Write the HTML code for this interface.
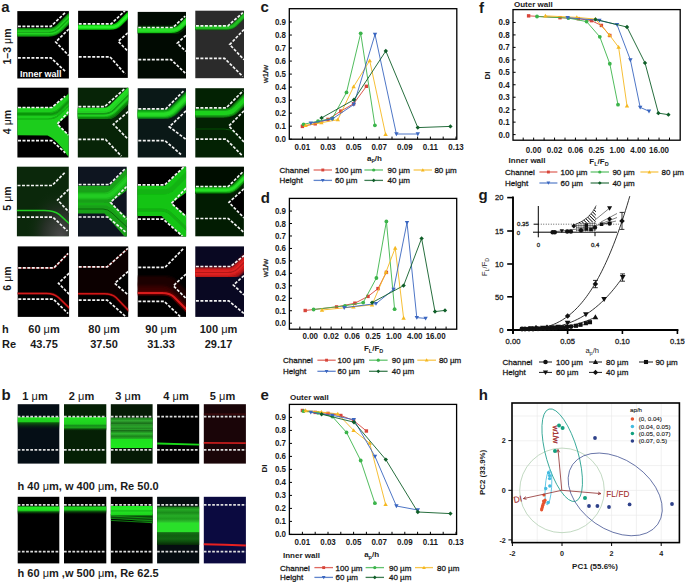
<!DOCTYPE html><html><head><meta charset="utf-8"><style>html,body{margin:0;padding:0;background:#fff;}svg{display:block;}text{font-family:"Liberation Sans", sans-serif;}</style></head><body>
<svg width="685" height="582" viewBox="0 0 685 582">
<rect width="685" height="582" fill="#fff"/>
<text x="260.50" y="11.60" font-size="15" font-weight="bold" text-anchor="start" fill="#1a1a1a" >c</text>
<rect x="289.3" y="8.7" width="167.50" height="130.50" fill="none" stroke="#000" stroke-width="1.3"/>
<line x1="289.3" y1="139.20" x2="291.9" y2="139.20" stroke="#000" stroke-width="1"/>
<text x="0" y="0" transform="translate(286.00,142.20) scale(0.93,1)" font-size="8.6" font-weight="bold" text-anchor="end" fill="#1a1a1a" >0.0</text>
<line x1="289.3" y1="126.18" x2="291.9" y2="126.18" stroke="#000" stroke-width="1"/>
<text x="0" y="0" transform="translate(286.00,129.18) scale(0.93,1)" font-size="8.6" font-weight="bold" text-anchor="end" fill="#1a1a1a" >0.1</text>
<line x1="289.3" y1="113.16" x2="291.9" y2="113.16" stroke="#000" stroke-width="1"/>
<text x="0" y="0" transform="translate(286.00,116.16) scale(0.93,1)" font-size="8.6" font-weight="bold" text-anchor="end" fill="#1a1a1a" >0.2</text>
<line x1="289.3" y1="100.14" x2="291.9" y2="100.14" stroke="#000" stroke-width="1"/>
<text x="0" y="0" transform="translate(286.00,103.14) scale(0.93,1)" font-size="8.6" font-weight="bold" text-anchor="end" fill="#1a1a1a" >0.3</text>
<line x1="289.3" y1="87.12" x2="291.9" y2="87.12" stroke="#000" stroke-width="1"/>
<text x="0" y="0" transform="translate(286.00,90.12) scale(0.93,1)" font-size="8.6" font-weight="bold" text-anchor="end" fill="#1a1a1a" >0.4</text>
<line x1="289.3" y1="74.10" x2="291.9" y2="74.10" stroke="#000" stroke-width="1"/>
<text x="0" y="0" transform="translate(286.00,77.10) scale(0.93,1)" font-size="8.6" font-weight="bold" text-anchor="end" fill="#1a1a1a" >0.5</text>
<line x1="289.3" y1="61.08" x2="291.9" y2="61.08" stroke="#000" stroke-width="1"/>
<text x="0" y="0" transform="translate(286.00,64.08) scale(0.93,1)" font-size="8.6" font-weight="bold" text-anchor="end" fill="#1a1a1a" >0.6</text>
<line x1="289.3" y1="48.06" x2="291.9" y2="48.06" stroke="#000" stroke-width="1"/>
<text x="0" y="0" transform="translate(286.00,51.06) scale(0.93,1)" font-size="8.6" font-weight="bold" text-anchor="end" fill="#1a1a1a" >0.7</text>
<line x1="289.3" y1="35.04" x2="291.9" y2="35.04" stroke="#000" stroke-width="1"/>
<text x="0" y="0" transform="translate(286.00,38.04) scale(0.93,1)" font-size="8.6" font-weight="bold" text-anchor="end" fill="#1a1a1a" >0.8</text>
<line x1="289.3" y1="22.02" x2="291.9" y2="22.02" stroke="#000" stroke-width="1"/>
<text x="0" y="0" transform="translate(286.00,25.02) scale(0.93,1)" font-size="8.6" font-weight="bold" text-anchor="end" fill="#1a1a1a" >0.9</text>
<line x1="302.40" y1="139.2" x2="302.40" y2="136.6" stroke="#000" stroke-width="1"/>
<text x="0" y="0" transform="translate(302.40,150.00) scale(0.93,1)" font-size="8.6" font-weight="bold" text-anchor="middle" fill="#1a1a1a" >0.01</text>
<line x1="315.20" y1="139.2" x2="315.20" y2="136.6" stroke="#000" stroke-width="1"/>
<line x1="328.00" y1="139.2" x2="328.00" y2="136.6" stroke="#000" stroke-width="1"/>
<text x="0" y="0" transform="translate(328.00,150.00) scale(0.93,1)" font-size="8.6" font-weight="bold" text-anchor="middle" fill="#1a1a1a" >0.03</text>
<line x1="340.80" y1="139.2" x2="340.80" y2="136.6" stroke="#000" stroke-width="1"/>
<line x1="353.60" y1="139.2" x2="353.60" y2="136.6" stroke="#000" stroke-width="1"/>
<text x="0" y="0" transform="translate(353.60,150.00) scale(0.93,1)" font-size="8.6" font-weight="bold" text-anchor="middle" fill="#1a1a1a" >0.05</text>
<line x1="366.40" y1="139.2" x2="366.40" y2="136.6" stroke="#000" stroke-width="1"/>
<line x1="379.20" y1="139.2" x2="379.20" y2="136.6" stroke="#000" stroke-width="1"/>
<text x="0" y="0" transform="translate(379.20,150.00) scale(0.93,1)" font-size="8.6" font-weight="bold" text-anchor="middle" fill="#1a1a1a" >0.07</text>
<line x1="392.00" y1="139.2" x2="392.00" y2="136.6" stroke="#000" stroke-width="1"/>
<line x1="404.80" y1="139.2" x2="404.80" y2="136.6" stroke="#000" stroke-width="1"/>
<text x="0" y="0" transform="translate(404.80,150.00) scale(0.93,1)" font-size="8.6" font-weight="bold" text-anchor="middle" fill="#1a1a1a" >0.09</text>
<line x1="417.60" y1="139.2" x2="417.60" y2="136.6" stroke="#000" stroke-width="1"/>
<line x1="430.40" y1="139.2" x2="430.40" y2="136.6" stroke="#000" stroke-width="1"/>
<text x="0" y="0" transform="translate(430.40,150.00) scale(0.93,1)" font-size="8.6" font-weight="bold" text-anchor="middle" fill="#1a1a1a" >0.11</text>
<line x1="443.20" y1="139.2" x2="443.20" y2="136.6" stroke="#000" stroke-width="1"/>
<line x1="456.00" y1="139.2" x2="456.00" y2="136.6" stroke="#000" stroke-width="1"/>
<text x="0" y="0" transform="translate(456.00,150.00) scale(0.93,1)" font-size="8.6" font-weight="bold" text-anchor="middle" fill="#1a1a1a" >0.13</text>
<text x="374.40" y="160.80" font-size="8" font-weight="bold" text-anchor="middle" fill="#1a1a1a">a<tspan font-size="5.5" dy="1.6">p</tspan><tspan dy="-1.6">/h</tspan></text>
<text x="0.00" y="0.00" font-size="8" font-weight="normal" text-anchor="middle" fill="#1a1a1a" stroke="#1a1a1a" stroke-width="0.28" transform="translate(268,74) rotate(-90)">w1/w</text>
<polyline points="302.40,126.40 315.20,123.80 328.00,119.40 340.80,111.10 353.60,103.80 366.40,86.30" fill="none" stroke="#d8453a" stroke-width="0.9" stroke-linejoin="round"/>
<rect x="300.70" y="124.70" width="3.40" height="3.40" fill="#d8453a"/>
<rect x="313.50" y="122.10" width="3.40" height="3.40" fill="#d8453a"/>
<rect x="326.30" y="117.70" width="3.40" height="3.40" fill="#d8453a"/>
<rect x="339.10" y="109.40" width="3.40" height="3.40" fill="#d8453a"/>
<rect x="351.90" y="102.10" width="3.40" height="3.40" fill="#d8453a"/>
<rect x="364.70" y="84.60" width="3.40" height="3.40" fill="#d8453a"/>
<polyline points="303.60,124.30 318.00,121.20 332.30,118.40 346.50,92.40 360.70,33.30 374.90,125.30" fill="none" stroke="#3cb44b" stroke-width="0.9" stroke-linejoin="round"/>
<circle cx="303.60" cy="124.30" r="1.90" fill="#3cb44b"/>
<circle cx="318.00" cy="121.20" r="1.90" fill="#3cb44b"/>
<circle cx="332.30" cy="118.40" r="1.90" fill="#3cb44b"/>
<circle cx="346.50" cy="92.40" r="1.90" fill="#3cb44b"/>
<circle cx="360.70" cy="33.30" r="1.90" fill="#3cb44b"/>
<circle cx="374.90" cy="125.30" r="1.90" fill="#3cb44b"/>
<polyline points="305.60,125.40 321.40,122.70 337.80,119.70 353.60,86.70 369.70,60.60 385.60,134.30" fill="none" stroke="#f5b820" stroke-width="0.9" stroke-linejoin="round"/>
<path d="M305.60,123.20L307.80,127.05L303.40,127.05Z" fill="#f5b820"/>
<path d="M321.40,120.50L323.60,124.35L319.20,124.35Z" fill="#f5b820"/>
<path d="M337.80,117.50L340.00,121.35L335.60,121.35Z" fill="#f5b820"/>
<path d="M353.60,84.50L355.80,88.35L351.40,88.35Z" fill="#f5b820"/>
<path d="M369.70,58.40L371.90,62.25L367.50,62.25Z" fill="#f5b820"/>
<path d="M385.60,132.10L387.80,135.95L383.40,135.95Z" fill="#f5b820"/>
<polyline points="310.80,123.10 332.20,119.00 353.80,104.50 375.00,34.50 396.40,134.00 417.80,134.00" fill="none" stroke="#3a66c0" stroke-width="0.9" stroke-linejoin="round"/>
<path d="M310.80,125.30L313.00,121.45L308.60,121.45Z" fill="#3a66c0"/>
<path d="M332.20,121.20L334.40,117.35L330.00,117.35Z" fill="#3a66c0"/>
<path d="M353.80,106.70L356.00,102.85L351.60,102.85Z" fill="#3a66c0"/>
<path d="M375.00,36.70L377.20,32.85L372.80,32.85Z" fill="#3a66c0"/>
<path d="M396.40,136.20L398.60,132.35L394.20,132.35Z" fill="#3a66c0"/>
<path d="M417.80,136.20L420.00,132.35L415.60,132.35Z" fill="#3a66c0"/>
<polyline points="321.60,117.90 354.00,99.70 385.80,51.00 417.80,127.60 450.40,126.40" fill="none" stroke="#0f5e28" stroke-width="0.9" stroke-linejoin="round"/>
<path d="M321.60,115.70L323.80,117.90L321.60,120.10L319.40,117.90Z" fill="#0f5e28"/>
<path d="M354.00,97.50L356.20,99.70L354.00,101.90L351.80,99.70Z" fill="#0f5e28"/>
<path d="M385.80,48.80L388.00,51.00L385.80,53.20L383.60,51.00Z" fill="#0f5e28"/>
<path d="M417.80,125.40L420.00,127.60L417.80,129.80L415.60,127.60Z" fill="#0f5e28"/>
<path d="M450.40,124.20L452.60,126.40L450.40,128.60L448.20,126.40Z" fill="#0f5e28"/>
<text x="279.60" y="172.90" font-size="8" font-weight="normal" text-anchor="start" fill="#1a1a1a" stroke="#1a1a1a" stroke-width="0.28" >Channel</text>
<text x="279.60" y="183.30" font-size="8" font-weight="normal" text-anchor="start" fill="#1a1a1a" stroke="#1a1a1a" stroke-width="0.28" >Height</text>
<line x1="313.6" y1="170" x2="332" y2="170" stroke="#d8453a" stroke-opacity="0.8" stroke-width="1.3"/>
<rect x="321.36" y="168.56" width="2.89" height="2.89" fill="#d8453a"/>
<text x="335.00" y="172.90" font-size="8" font-weight="normal" text-anchor="start" fill="#1a1a1a" stroke="#1a1a1a" stroke-width="0.28" >100 µm</text>
<line x1="364.4" y1="170" x2="383" y2="170" stroke="#3cb44b" stroke-opacity="0.8" stroke-width="1.3"/>
<circle cx="373.70" cy="170.00" r="1.61" fill="#3cb44b"/>
<text x="387.60" y="172.90" font-size="8" font-weight="normal" text-anchor="start" fill="#1a1a1a" stroke="#1a1a1a" stroke-width="0.28" >90 µm</text>
<line x1="413.6" y1="170" x2="432" y2="170" stroke="#f5b820" stroke-opacity="0.8" stroke-width="1.3"/>
<path d="M422.80,168.13L424.67,171.40L420.93,171.40Z" fill="#f5b820"/>
<text x="434.40" y="172.90" font-size="8" font-weight="normal" text-anchor="start" fill="#1a1a1a" stroke="#1a1a1a" stroke-width="0.28" >80 µm</text>
<line x1="313.6" y1="180.4" x2="332" y2="180.4" stroke="#3a66c0" stroke-opacity="0.8" stroke-width="1.3"/>
<path d="M322.80,182.27L324.67,179.00L320.93,179.00Z" fill="#3a66c0"/>
<text x="335.00" y="183.30" font-size="8" font-weight="normal" text-anchor="start" fill="#1a1a1a" stroke="#1a1a1a" stroke-width="0.28" >60 µm</text>
<line x1="364.4" y1="180.4" x2="383" y2="180.4" stroke="#0f5e28" stroke-opacity="0.8" stroke-width="1.3"/>
<path d="M373.70,178.53L375.57,180.40L373.70,182.27L371.83,180.40Z" fill="#0f5e28"/>
<text x="387.60" y="183.30" font-size="8" font-weight="normal" text-anchor="start" fill="#1a1a1a" stroke="#1a1a1a" stroke-width="0.28" >40 µm</text>
<text x="260.80" y="202.60" font-size="15" font-weight="bold" text-anchor="start" fill="#1a1a1a" >d</text>
<rect x="289.4" y="198.4" width="167.30" height="130.80" fill="none" stroke="#000" stroke-width="1.3"/>
<line x1="289.4" y1="323.20" x2="292" y2="323.20" stroke="#000" stroke-width="1"/>
<text x="0" y="0" transform="translate(286.00,326.20) scale(0.93,1)" font-size="8.6" font-weight="bold" text-anchor="end" fill="#1a1a1a" >0.0</text>
<line x1="289.4" y1="310.74" x2="292" y2="310.74" stroke="#000" stroke-width="1"/>
<text x="0" y="0" transform="translate(286.00,313.74) scale(0.93,1)" font-size="8.6" font-weight="bold" text-anchor="end" fill="#1a1a1a" >0.1</text>
<line x1="289.4" y1="298.28" x2="292" y2="298.28" stroke="#000" stroke-width="1"/>
<text x="0" y="0" transform="translate(286.00,301.28) scale(0.93,1)" font-size="8.6" font-weight="bold" text-anchor="end" fill="#1a1a1a" >0.2</text>
<line x1="289.4" y1="285.82" x2="292" y2="285.82" stroke="#000" stroke-width="1"/>
<text x="0" y="0" transform="translate(286.00,288.82) scale(0.93,1)" font-size="8.6" font-weight="bold" text-anchor="end" fill="#1a1a1a" >0.3</text>
<line x1="289.4" y1="273.36" x2="292" y2="273.36" stroke="#000" stroke-width="1"/>
<text x="0" y="0" transform="translate(286.00,276.36) scale(0.93,1)" font-size="8.6" font-weight="bold" text-anchor="end" fill="#1a1a1a" >0.4</text>
<line x1="289.4" y1="260.90" x2="292" y2="260.90" stroke="#000" stroke-width="1"/>
<text x="0" y="0" transform="translate(286.00,263.90) scale(0.93,1)" font-size="8.6" font-weight="bold" text-anchor="end" fill="#1a1a1a" >0.5</text>
<line x1="289.4" y1="248.44" x2="292" y2="248.44" stroke="#000" stroke-width="1"/>
<text x="0" y="0" transform="translate(286.00,251.44) scale(0.93,1)" font-size="8.6" font-weight="bold" text-anchor="end" fill="#1a1a1a" >0.6</text>
<line x1="289.4" y1="235.98" x2="292" y2="235.98" stroke="#000" stroke-width="1"/>
<text x="0" y="0" transform="translate(286.00,238.98) scale(0.93,1)" font-size="8.6" font-weight="bold" text-anchor="end" fill="#1a1a1a" >0.7</text>
<line x1="289.4" y1="223.52" x2="292" y2="223.52" stroke="#000" stroke-width="1"/>
<text x="0" y="0" transform="translate(286.00,226.52) scale(0.93,1)" font-size="8.6" font-weight="bold" text-anchor="end" fill="#1a1a1a" >0.8</text>
<line x1="289.4" y1="211.06" x2="292" y2="211.06" stroke="#000" stroke-width="1"/>
<text x="0" y="0" transform="translate(286.00,214.06) scale(0.93,1)" font-size="8.6" font-weight="bold" text-anchor="end" fill="#1a1a1a" >0.9</text>
<line x1="299.80" y1="329.2" x2="299.80" y2="326.6" stroke="#000" stroke-width="1"/>
<line x1="310.25" y1="329.2" x2="310.25" y2="326.6" stroke="#000" stroke-width="1"/>
<text x="0" y="0" transform="translate(310.25,339.10) scale(0.93,1)" font-size="8.6" font-weight="bold" text-anchor="middle" fill="#1a1a1a" >0.00</text>
<line x1="320.70" y1="329.2" x2="320.70" y2="326.6" stroke="#000" stroke-width="1"/>
<line x1="331.15" y1="329.2" x2="331.15" y2="326.6" stroke="#000" stroke-width="1"/>
<text x="0" y="0" transform="translate(331.15,339.10) scale(0.93,1)" font-size="8.6" font-weight="bold" text-anchor="middle" fill="#1a1a1a" >0.02</text>
<line x1="341.60" y1="329.2" x2="341.60" y2="326.6" stroke="#000" stroke-width="1"/>
<line x1="352.05" y1="329.2" x2="352.05" y2="326.6" stroke="#000" stroke-width="1"/>
<text x="0" y="0" transform="translate(352.05,339.10) scale(0.93,1)" font-size="8.6" font-weight="bold" text-anchor="middle" fill="#1a1a1a" >0.06</text>
<line x1="362.50" y1="329.2" x2="362.50" y2="326.6" stroke="#000" stroke-width="1"/>
<line x1="372.95" y1="329.2" x2="372.95" y2="326.6" stroke="#000" stroke-width="1"/>
<text x="0" y="0" transform="translate(372.95,339.10) scale(0.93,1)" font-size="8.6" font-weight="bold" text-anchor="middle" fill="#1a1a1a" >0.25</text>
<line x1="383.40" y1="329.2" x2="383.40" y2="326.6" stroke="#000" stroke-width="1"/>
<line x1="393.85" y1="329.2" x2="393.85" y2="326.6" stroke="#000" stroke-width="1"/>
<text x="0" y="0" transform="translate(393.85,339.10) scale(0.93,1)" font-size="8.6" font-weight="bold" text-anchor="middle" fill="#1a1a1a" >1.00</text>
<line x1="404.30" y1="329.2" x2="404.30" y2="326.6" stroke="#000" stroke-width="1"/>
<line x1="414.75" y1="329.2" x2="414.75" y2="326.6" stroke="#000" stroke-width="1"/>
<text x="0" y="0" transform="translate(414.75,339.10) scale(0.93,1)" font-size="8.6" font-weight="bold" text-anchor="middle" fill="#1a1a1a" >4.00</text>
<line x1="425.20" y1="329.2" x2="425.20" y2="326.6" stroke="#000" stroke-width="1"/>
<line x1="435.65" y1="329.2" x2="435.65" y2="326.6" stroke="#000" stroke-width="1"/>
<text x="0" y="0" transform="translate(435.65,339.10) scale(0.93,1)" font-size="8.6" font-weight="bold" text-anchor="middle" fill="#1a1a1a" >16.00</text>
<line x1="446.10" y1="329.2" x2="446.10" y2="326.6" stroke="#000" stroke-width="1"/>
<text x="373.60" y="351.00" font-size="8" font-weight="bold" text-anchor="middle" fill="#1a1a1a">F<tspan font-size="5.5" dy="1.6">L</tspan><tspan dy="-1.6">/F</tspan><tspan font-size="5.5" dy="1.6">D</tspan></text>
<text x="0.00" y="0.00" font-size="8" font-weight="normal" text-anchor="middle" fill="#1a1a1a" stroke="#1a1a1a" stroke-width="0.28" transform="translate(268.4,268) rotate(-90)">w1/w</text>
<polyline points="305.20,310.50 336.60,306.90 354.90,303.20 368.00,296.40 378.00,288.60 386.40,272.40" fill="none" stroke="#d8453a" stroke-width="0.9" stroke-linejoin="round"/>
<rect x="303.50" y="308.80" width="3.40" height="3.40" fill="#d8453a"/>
<rect x="334.90" y="305.20" width="3.40" height="3.40" fill="#d8453a"/>
<rect x="353.20" y="301.50" width="3.40" height="3.40" fill="#d8453a"/>
<rect x="366.30" y="294.70" width="3.40" height="3.40" fill="#d8453a"/>
<rect x="376.30" y="286.90" width="3.40" height="3.40" fill="#d8453a"/>
<rect x="384.70" y="270.70" width="3.40" height="3.40" fill="#d8453a"/>
<polyline points="313.60,309.50 345.00,305.80 363.20,302.60 376.40,278.00 386.40,221.40 394.60,309.20" fill="none" stroke="#3cb44b" stroke-width="0.9" stroke-linejoin="round"/>
<circle cx="313.60" cy="309.50" r="1.90" fill="#3cb44b"/>
<circle cx="345.00" cy="305.80" r="1.90" fill="#3cb44b"/>
<circle cx="363.20" cy="302.60" r="1.90" fill="#3cb44b"/>
<circle cx="376.40" cy="278.00" r="1.90" fill="#3cb44b"/>
<circle cx="386.40" cy="221.40" r="1.90" fill="#3cb44b"/>
<circle cx="394.60" cy="309.20" r="1.90" fill="#3cb44b"/>
<polyline points="322.00,310.00 353.40,306.90 372.00,304.80 386.00,272.00 395.20,248.00 403.60,318.00" fill="none" stroke="#f5b820" stroke-width="0.9" stroke-linejoin="round"/>
<path d="M322.00,307.80L324.20,311.65L319.80,311.65Z" fill="#f5b820"/>
<path d="M353.40,304.70L355.60,308.55L351.20,308.55Z" fill="#f5b820"/>
<path d="M372.00,302.60L374.20,306.45L369.80,306.45Z" fill="#f5b820"/>
<path d="M386.00,269.80L388.20,273.65L383.80,273.65Z" fill="#f5b820"/>
<path d="M395.20,245.80L397.40,249.65L393.00,249.65Z" fill="#f5b820"/>
<path d="M403.60,315.80L405.80,319.65L401.40,319.65Z" fill="#f5b820"/>
<polyline points="344.20,307.70 376.00,303.60 393.60,289.40 407.00,222.60 416.80,317.60 425.60,318.40" fill="none" stroke="#3a66c0" stroke-width="0.9" stroke-linejoin="round"/>
<path d="M344.20,309.90L346.40,306.05L342.00,306.05Z" fill="#3a66c0"/>
<path d="M376.00,305.80L378.20,301.95L373.80,301.95Z" fill="#3a66c0"/>
<path d="M393.60,291.60L395.80,287.75L391.40,287.75Z" fill="#3a66c0"/>
<path d="M407.00,224.80L409.20,220.95L404.80,220.95Z" fill="#3a66c0"/>
<path d="M416.80,319.80L419.00,315.95L414.60,315.95Z" fill="#3a66c0"/>
<path d="M425.60,320.60L427.80,316.75L423.40,316.75Z" fill="#3a66c0"/>
<polyline points="372.10,302.60 403.60,285.60 421.60,238.40 435.00,311.60 445.00,310.40" fill="none" stroke="#0f5e28" stroke-width="0.9" stroke-linejoin="round"/>
<path d="M372.10,300.40L374.30,302.60L372.10,304.80L369.90,302.60Z" fill="#0f5e28"/>
<path d="M403.60,283.40L405.80,285.60L403.60,287.80L401.40,285.60Z" fill="#0f5e28"/>
<path d="M421.60,236.20L423.80,238.40L421.60,240.60L419.40,238.40Z" fill="#0f5e28"/>
<path d="M435.00,309.40L437.20,311.60L435.00,313.80L432.80,311.60Z" fill="#0f5e28"/>
<path d="M445.00,308.20L447.20,310.40L445.00,312.60L442.80,310.40Z" fill="#0f5e28"/>
<text x="283.00" y="363.10" font-size="8" font-weight="normal" text-anchor="start" fill="#1a1a1a" stroke="#1a1a1a" stroke-width="0.28" >Channel</text>
<text x="283.00" y="374.20" font-size="8" font-weight="normal" text-anchor="start" fill="#1a1a1a" stroke="#1a1a1a" stroke-width="0.28" >Height</text>
<line x1="317.4" y1="360.2" x2="335.7" y2="360.2" stroke="#d8453a" stroke-opacity="0.8" stroke-width="1.3"/>
<rect x="325.10" y="358.75" width="2.89" height="2.89" fill="#d8453a"/>
<text x="337.60" y="363.10" font-size="8" font-weight="normal" text-anchor="start" fill="#1a1a1a" stroke="#1a1a1a" stroke-width="0.28" >100 µm</text>
<line x1="369" y1="360.2" x2="387.6" y2="360.2" stroke="#3cb44b" stroke-opacity="0.8" stroke-width="1.3"/>
<circle cx="378.30" cy="360.20" r="1.61" fill="#3cb44b"/>
<text x="391.70" y="363.10" font-size="8" font-weight="normal" text-anchor="start" fill="#1a1a1a" stroke="#1a1a1a" stroke-width="0.28" >90 µm</text>
<line x1="417.3" y1="360.2" x2="436" y2="360.2" stroke="#f5b820" stroke-opacity="0.8" stroke-width="1.3"/>
<path d="M426.65,358.33L428.52,361.60L424.78,361.60Z" fill="#f5b820"/>
<text x="438.90" y="363.10" font-size="8" font-weight="normal" text-anchor="start" fill="#1a1a1a" stroke="#1a1a1a" stroke-width="0.28" >80 µm</text>
<line x1="317.4" y1="371.3" x2="335.7" y2="371.3" stroke="#3a66c0" stroke-opacity="0.8" stroke-width="1.3"/>
<path d="M326.55,373.17L328.42,369.90L324.68,369.90Z" fill="#3a66c0"/>
<text x="337.60" y="374.20" font-size="8" font-weight="normal" text-anchor="start" fill="#1a1a1a" stroke="#1a1a1a" stroke-width="0.28" >60 µm</text>
<line x1="369" y1="371.3" x2="387.6" y2="371.3" stroke="#0f5e28" stroke-opacity="0.8" stroke-width="1.3"/>
<path d="M378.30,369.43L380.17,371.30L378.30,373.17L376.43,371.30Z" fill="#0f5e28"/>
<text x="391.70" y="374.20" font-size="8" font-weight="normal" text-anchor="start" fill="#1a1a1a" stroke="#1a1a1a" stroke-width="0.28" >40 µm</text>
<text x="260.50" y="399.60" font-size="15" font-weight="bold" text-anchor="start" fill="#1a1a1a" >e</text>
<text x="290.00" y="400.30" font-size="8" font-weight="bold" text-anchor="start" fill="#1a1a1a" >Outer wall</text>
<rect x="289.4" y="404.4" width="167.20" height="130.00" fill="none" stroke="#000" stroke-width="1.3"/>
<line x1="289.4" y1="534.40" x2="292" y2="534.40" stroke="#000" stroke-width="1"/>
<text x="0" y="0" transform="translate(286.00,537.40) scale(0.93,1)" font-size="8.6" font-weight="bold" text-anchor="end" fill="#1a1a1a" >0.0</text>
<line x1="289.4" y1="521.40" x2="292" y2="521.40" stroke="#000" stroke-width="1"/>
<text x="0" y="0" transform="translate(286.00,524.40) scale(0.93,1)" font-size="8.6" font-weight="bold" text-anchor="end" fill="#1a1a1a" >0.1</text>
<line x1="289.4" y1="508.40" x2="292" y2="508.40" stroke="#000" stroke-width="1"/>
<text x="0" y="0" transform="translate(286.00,511.40) scale(0.93,1)" font-size="8.6" font-weight="bold" text-anchor="end" fill="#1a1a1a" >0.2</text>
<line x1="289.4" y1="495.40" x2="292" y2="495.40" stroke="#000" stroke-width="1"/>
<text x="0" y="0" transform="translate(286.00,498.40) scale(0.93,1)" font-size="8.6" font-weight="bold" text-anchor="end" fill="#1a1a1a" >0.3</text>
<line x1="289.4" y1="482.40" x2="292" y2="482.40" stroke="#000" stroke-width="1"/>
<text x="0" y="0" transform="translate(286.00,485.40) scale(0.93,1)" font-size="8.6" font-weight="bold" text-anchor="end" fill="#1a1a1a" >0.4</text>
<line x1="289.4" y1="469.40" x2="292" y2="469.40" stroke="#000" stroke-width="1"/>
<text x="0" y="0" transform="translate(286.00,472.40) scale(0.93,1)" font-size="8.6" font-weight="bold" text-anchor="end" fill="#1a1a1a" >0.5</text>
<line x1="289.4" y1="456.40" x2="292" y2="456.40" stroke="#000" stroke-width="1"/>
<text x="0" y="0" transform="translate(286.00,459.40) scale(0.93,1)" font-size="8.6" font-weight="bold" text-anchor="end" fill="#1a1a1a" >0.6</text>
<line x1="289.4" y1="443.40" x2="292" y2="443.40" stroke="#000" stroke-width="1"/>
<text x="0" y="0" transform="translate(286.00,446.40) scale(0.93,1)" font-size="8.6" font-weight="bold" text-anchor="end" fill="#1a1a1a" >0.7</text>
<line x1="289.4" y1="430.40" x2="292" y2="430.40" stroke="#000" stroke-width="1"/>
<text x="0" y="0" transform="translate(286.00,433.40) scale(0.93,1)" font-size="8.6" font-weight="bold" text-anchor="end" fill="#1a1a1a" >0.8</text>
<line x1="289.4" y1="417.40" x2="292" y2="417.40" stroke="#000" stroke-width="1"/>
<text x="0" y="0" transform="translate(286.00,420.40) scale(0.93,1)" font-size="8.6" font-weight="bold" text-anchor="end" fill="#1a1a1a" >0.9</text>
<line x1="302.40" y1="534.4" x2="302.40" y2="531.8" stroke="#000" stroke-width="1"/>
<text x="0" y="0" transform="translate(302.40,545.20) scale(0.93,1)" font-size="8.6" font-weight="bold" text-anchor="middle" fill="#1a1a1a" >0.01</text>
<line x1="315.20" y1="534.4" x2="315.20" y2="531.8" stroke="#000" stroke-width="1"/>
<line x1="328.00" y1="534.4" x2="328.00" y2="531.8" stroke="#000" stroke-width="1"/>
<text x="0" y="0" transform="translate(328.00,545.20) scale(0.93,1)" font-size="8.6" font-weight="bold" text-anchor="middle" fill="#1a1a1a" >0.03</text>
<line x1="340.80" y1="534.4" x2="340.80" y2="531.8" stroke="#000" stroke-width="1"/>
<line x1="353.60" y1="534.4" x2="353.60" y2="531.8" stroke="#000" stroke-width="1"/>
<text x="0" y="0" transform="translate(353.60,545.20) scale(0.93,1)" font-size="8.6" font-weight="bold" text-anchor="middle" fill="#1a1a1a" >0.05</text>
<line x1="366.40" y1="534.4" x2="366.40" y2="531.8" stroke="#000" stroke-width="1"/>
<line x1="379.20" y1="534.4" x2="379.20" y2="531.8" stroke="#000" stroke-width="1"/>
<text x="0" y="0" transform="translate(379.20,545.20) scale(0.93,1)" font-size="8.6" font-weight="bold" text-anchor="middle" fill="#1a1a1a" >0.07</text>
<line x1="392.00" y1="534.4" x2="392.00" y2="531.8" stroke="#000" stroke-width="1"/>
<line x1="404.80" y1="534.4" x2="404.80" y2="531.8" stroke="#000" stroke-width="1"/>
<text x="0" y="0" transform="translate(404.80,545.20) scale(0.93,1)" font-size="8.6" font-weight="bold" text-anchor="middle" fill="#1a1a1a" >0.09</text>
<line x1="417.60" y1="534.4" x2="417.60" y2="531.8" stroke="#000" stroke-width="1"/>
<line x1="430.40" y1="534.4" x2="430.40" y2="531.8" stroke="#000" stroke-width="1"/>
<text x="0" y="0" transform="translate(430.40,545.20) scale(0.93,1)" font-size="8.6" font-weight="bold" text-anchor="middle" fill="#1a1a1a" >0.11</text>
<line x1="443.20" y1="534.4" x2="443.20" y2="531.8" stroke="#000" stroke-width="1"/>
<line x1="456.00" y1="534.4" x2="456.00" y2="531.8" stroke="#000" stroke-width="1"/>
<text x="0" y="0" transform="translate(456.00,545.20) scale(0.93,1)" font-size="8.6" font-weight="bold" text-anchor="middle" fill="#1a1a1a" >0.13</text>
<text x="371.60" y="557.40" font-size="8" font-weight="bold" text-anchor="middle" fill="#1a1a1a">a<tspan font-size="5.5" dy="1.6">p</tspan><tspan dy="-1.6">/h</tspan></text>
<text x="283.00" y="557.90" font-size="8" font-weight="bold" text-anchor="start" fill="#1a1a1a" >Inner wall</text>
<text x="0.00" y="0.00" font-size="8" font-weight="bold" text-anchor="middle" fill="#1a1a1a" transform="translate(267.3,468.6) rotate(-90)">DI</text>
<polyline points="302.40,410.50 315.20,412.40 328.00,413.40 340.80,415.50 353.60,420.50 366.40,431.00" fill="none" stroke="#d8453a" stroke-width="0.9" stroke-linejoin="round"/>
<rect x="300.70" y="408.80" width="3.40" height="3.40" fill="#d8453a"/>
<rect x="313.50" y="410.70" width="3.40" height="3.40" fill="#d8453a"/>
<rect x="326.30" y="411.70" width="3.40" height="3.40" fill="#d8453a"/>
<rect x="339.10" y="413.80" width="3.40" height="3.40" fill="#d8453a"/>
<rect x="351.90" y="418.80" width="3.40" height="3.40" fill="#d8453a"/>
<rect x="364.70" y="429.30" width="3.40" height="3.40" fill="#d8453a"/>
<polyline points="303.60,411.20 318.00,412.80 332.30,416.50 346.50,432.40 360.70,460.50 374.90,503.20" fill="none" stroke="#3cb44b" stroke-width="0.9" stroke-linejoin="round"/>
<circle cx="303.60" cy="411.20" r="1.90" fill="#3cb44b"/>
<circle cx="318.00" cy="412.80" r="1.90" fill="#3cb44b"/>
<circle cx="332.30" cy="416.50" r="1.90" fill="#3cb44b"/>
<circle cx="346.50" cy="432.40" r="1.90" fill="#3cb44b"/>
<circle cx="360.70" cy="460.50" r="1.90" fill="#3cb44b"/>
<circle cx="374.90" cy="503.20" r="1.90" fill="#3cb44b"/>
<polyline points="305.60,410.50 321.40,412.10 337.80,413.90 353.60,430.40 369.70,443.20 385.60,504.40" fill="none" stroke="#f5b820" stroke-width="0.9" stroke-linejoin="round"/>
<path d="M305.60,408.30L307.80,412.15L303.40,412.15Z" fill="#f5b820"/>
<path d="M321.40,409.90L323.60,413.75L319.20,413.75Z" fill="#f5b820"/>
<path d="M337.80,411.70L340.00,415.55L335.60,415.55Z" fill="#f5b820"/>
<path d="M353.60,428.20L355.80,432.05L351.40,432.05Z" fill="#f5b820"/>
<path d="M369.70,441.00L371.90,444.85L367.50,444.85Z" fill="#f5b820"/>
<path d="M385.60,502.20L387.80,506.05L383.40,506.05Z" fill="#f5b820"/>
<polyline points="310.80,412.40 332.20,415.30 353.80,419.70 375.00,456.50 396.40,506.00 417.80,510.00" fill="none" stroke="#3a66c0" stroke-width="0.9" stroke-linejoin="round"/>
<path d="M310.80,414.60L313.00,410.75L308.60,410.75Z" fill="#3a66c0"/>
<path d="M332.20,417.50L334.40,413.65L330.00,413.65Z" fill="#3a66c0"/>
<path d="M353.80,421.90L356.00,418.05L351.60,418.05Z" fill="#3a66c0"/>
<path d="M375.00,458.70L377.20,454.85L372.80,454.85Z" fill="#3a66c0"/>
<path d="M396.40,508.20L398.60,504.35L394.20,504.35Z" fill="#3a66c0"/>
<path d="M417.80,512.20L420.00,508.35L415.60,508.35Z" fill="#3a66c0"/>
<polyline points="321.60,414.20 354.00,422.20 385.80,459.60 417.80,512.00 450.40,513.60" fill="none" stroke="#0f5e28" stroke-width="0.9" stroke-linejoin="round"/>
<path d="M321.60,412.00L323.80,414.20L321.60,416.40L319.40,414.20Z" fill="#0f5e28"/>
<path d="M354.00,420.00L356.20,422.20L354.00,424.40L351.80,422.20Z" fill="#0f5e28"/>
<path d="M385.80,457.40L388.00,459.60L385.80,461.80L383.60,459.60Z" fill="#0f5e28"/>
<path d="M417.80,509.80L420.00,512.00L417.80,514.20L415.60,512.00Z" fill="#0f5e28"/>
<path d="M450.40,511.40L452.60,513.60L450.40,515.80L448.20,513.60Z" fill="#0f5e28"/>
<text x="280.00" y="570.50" font-size="8" font-weight="normal" text-anchor="start" fill="#1a1a1a" stroke="#1a1a1a" stroke-width="0.28" >Channel</text>
<text x="280.00" y="580.30" font-size="8" font-weight="normal" text-anchor="start" fill="#1a1a1a" stroke="#1a1a1a" stroke-width="0.28" >Height</text>
<line x1="314.4" y1="567.6" x2="333" y2="567.6" stroke="#d8453a" stroke-opacity="0.8" stroke-width="1.3"/>
<rect x="322.25" y="566.15" width="2.89" height="2.89" fill="#d8453a"/>
<text x="335.60" y="570.50" font-size="8" font-weight="normal" text-anchor="start" fill="#1a1a1a" stroke="#1a1a1a" stroke-width="0.28" >100 µm</text>
<line x1="365.6" y1="567.6" x2="384" y2="567.6" stroke="#3cb44b" stroke-opacity="0.8" stroke-width="1.3"/>
<circle cx="374.80" cy="567.60" r="1.61" fill="#3cb44b"/>
<text x="389.00" y="570.50" font-size="8" font-weight="normal" text-anchor="start" fill="#1a1a1a" stroke="#1a1a1a" stroke-width="0.28" >90 µm</text>
<line x1="415" y1="567.6" x2="433" y2="567.6" stroke="#f5b820" stroke-opacity="0.8" stroke-width="1.3"/>
<path d="M424.00,565.73L425.87,569.00L422.13,569.00Z" fill="#f5b820"/>
<text x="437.00" y="570.50" font-size="8" font-weight="normal" text-anchor="start" fill="#1a1a1a" stroke="#1a1a1a" stroke-width="0.28" >80 µm</text>
<line x1="314.4" y1="577.4" x2="333" y2="577.4" stroke="#3a66c0" stroke-opacity="0.8" stroke-width="1.3"/>
<path d="M323.70,579.27L325.57,576.00L321.83,576.00Z" fill="#3a66c0"/>
<text x="335.60" y="580.30" font-size="8" font-weight="normal" text-anchor="start" fill="#1a1a1a" stroke="#1a1a1a" stroke-width="0.28" >60 µm</text>
<line x1="365.6" y1="577.4" x2="384" y2="577.4" stroke="#0f5e28" stroke-opacity="0.8" stroke-width="1.3"/>
<path d="M374.80,575.53L376.67,577.40L374.80,579.27L372.93,577.40Z" fill="#0f5e28"/>
<text x="389.00" y="580.30" font-size="8" font-weight="normal" text-anchor="start" fill="#1a1a1a" stroke="#1a1a1a" stroke-width="0.28" >40 µm</text>
<text x="479.00" y="12.60" font-size="15" font-weight="bold" text-anchor="start" fill="#1a1a1a" >f</text>
<text x="514.00" y="7.30" font-size="8" font-weight="bold" text-anchor="start" fill="#1a1a1a" >Outer wall</text>
<rect x="513" y="9.6" width="167.20" height="130.60" fill="none" stroke="#000" stroke-width="1.3"/>
<line x1="513" y1="134.60" x2="515.6" y2="134.60" stroke="#000" stroke-width="1"/>
<text x="0" y="0" transform="translate(509.70,137.60) scale(0.93,1)" font-size="8.6" font-weight="bold" text-anchor="end" fill="#1a1a1a" >0.0</text>
<line x1="513" y1="122.14" x2="515.6" y2="122.14" stroke="#000" stroke-width="1"/>
<text x="0" y="0" transform="translate(509.70,125.14) scale(0.93,1)" font-size="8.6" font-weight="bold" text-anchor="end" fill="#1a1a1a" >0.1</text>
<line x1="513" y1="109.68" x2="515.6" y2="109.68" stroke="#000" stroke-width="1"/>
<text x="0" y="0" transform="translate(509.70,112.68) scale(0.93,1)" font-size="8.6" font-weight="bold" text-anchor="end" fill="#1a1a1a" >0.2</text>
<line x1="513" y1="97.22" x2="515.6" y2="97.22" stroke="#000" stroke-width="1"/>
<text x="0" y="0" transform="translate(509.70,100.22) scale(0.93,1)" font-size="8.6" font-weight="bold" text-anchor="end" fill="#1a1a1a" >0.3</text>
<line x1="513" y1="84.76" x2="515.6" y2="84.76" stroke="#000" stroke-width="1"/>
<text x="0" y="0" transform="translate(509.70,87.76) scale(0.93,1)" font-size="8.6" font-weight="bold" text-anchor="end" fill="#1a1a1a" >0.4</text>
<line x1="513" y1="72.30" x2="515.6" y2="72.30" stroke="#000" stroke-width="1"/>
<text x="0" y="0" transform="translate(509.70,75.30) scale(0.93,1)" font-size="8.6" font-weight="bold" text-anchor="end" fill="#1a1a1a" >0.5</text>
<line x1="513" y1="59.84" x2="515.6" y2="59.84" stroke="#000" stroke-width="1"/>
<text x="0" y="0" transform="translate(509.70,62.84) scale(0.93,1)" font-size="8.6" font-weight="bold" text-anchor="end" fill="#1a1a1a" >0.6</text>
<line x1="513" y1="47.38" x2="515.6" y2="47.38" stroke="#000" stroke-width="1"/>
<text x="0" y="0" transform="translate(509.70,50.38) scale(0.93,1)" font-size="8.6" font-weight="bold" text-anchor="end" fill="#1a1a1a" >0.7</text>
<line x1="513" y1="34.92" x2="515.6" y2="34.92" stroke="#000" stroke-width="1"/>
<text x="0" y="0" transform="translate(509.70,37.92) scale(0.93,1)" font-size="8.6" font-weight="bold" text-anchor="end" fill="#1a1a1a" >0.8</text>
<line x1="513" y1="22.46" x2="515.6" y2="22.46" stroke="#000" stroke-width="1"/>
<text x="0" y="0" transform="translate(509.70,25.46) scale(0.93,1)" font-size="8.6" font-weight="bold" text-anchor="end" fill="#1a1a1a" >0.9</text>
<line x1="523.20" y1="140.2" x2="523.20" y2="137.6" stroke="#000" stroke-width="1"/>
<line x1="533.65" y1="140.2" x2="533.65" y2="137.6" stroke="#000" stroke-width="1"/>
<text x="0" y="0" transform="translate(533.65,152.50) scale(0.93,1)" font-size="8.6" font-weight="bold" text-anchor="middle" fill="#1a1a1a" >0.00</text>
<line x1="544.10" y1="140.2" x2="544.10" y2="137.6" stroke="#000" stroke-width="1"/>
<line x1="554.55" y1="140.2" x2="554.55" y2="137.6" stroke="#000" stroke-width="1"/>
<text x="0" y="0" transform="translate(554.55,152.50) scale(0.93,1)" font-size="8.6" font-weight="bold" text-anchor="middle" fill="#1a1a1a" >0.02</text>
<line x1="565.00" y1="140.2" x2="565.00" y2="137.6" stroke="#000" stroke-width="1"/>
<line x1="575.45" y1="140.2" x2="575.45" y2="137.6" stroke="#000" stroke-width="1"/>
<text x="0" y="0" transform="translate(575.45,152.50) scale(0.93,1)" font-size="8.6" font-weight="bold" text-anchor="middle" fill="#1a1a1a" >0.06</text>
<line x1="585.90" y1="140.2" x2="585.90" y2="137.6" stroke="#000" stroke-width="1"/>
<line x1="596.35" y1="140.2" x2="596.35" y2="137.6" stroke="#000" stroke-width="1"/>
<text x="0" y="0" transform="translate(596.35,152.50) scale(0.93,1)" font-size="8.6" font-weight="bold" text-anchor="middle" fill="#1a1a1a" >0.25</text>
<line x1="606.80" y1="140.2" x2="606.80" y2="137.6" stroke="#000" stroke-width="1"/>
<line x1="617.25" y1="140.2" x2="617.25" y2="137.6" stroke="#000" stroke-width="1"/>
<text x="0" y="0" transform="translate(617.25,152.50) scale(0.93,1)" font-size="8.6" font-weight="bold" text-anchor="middle" fill="#1a1a1a" >1.00</text>
<line x1="627.70" y1="140.2" x2="627.70" y2="137.6" stroke="#000" stroke-width="1"/>
<line x1="638.15" y1="140.2" x2="638.15" y2="137.6" stroke="#000" stroke-width="1"/>
<text x="0" y="0" transform="translate(638.15,152.50) scale(0.93,1)" font-size="8.6" font-weight="bold" text-anchor="middle" fill="#1a1a1a" >4.00</text>
<line x1="648.60" y1="140.2" x2="648.60" y2="137.6" stroke="#000" stroke-width="1"/>
<line x1="659.05" y1="140.2" x2="659.05" y2="137.6" stroke="#000" stroke-width="1"/>
<text x="0" y="0" transform="translate(659.05,152.50) scale(0.93,1)" font-size="8.6" font-weight="bold" text-anchor="middle" fill="#1a1a1a" >16.00</text>
<line x1="669.50" y1="140.2" x2="669.50" y2="137.6" stroke="#000" stroke-width="1"/>
<text x="599.00" y="164.00" font-size="8" font-weight="bold" text-anchor="middle" fill="#1a1a1a">F<tspan font-size="5.5" dy="1.6">L</tspan><tspan dy="-1.6">/F</tspan><tspan font-size="5.5" dy="1.6">D</tspan></text>
<text x="508.60" y="162.90" font-size="8" font-weight="bold" text-anchor="start" fill="#1a1a1a" >Inner wall</text>
<text x="0.00" y="0.00" font-size="8" font-weight="bold" text-anchor="middle" fill="#1a1a1a" transform="translate(490.3,75.6) rotate(-90)">DI</text>
<polyline points="528.60,15.85 560.00,17.67 578.30,18.63 591.40,20.64 601.40,25.43 609.80,35.50" fill="none" stroke="#d8453a" stroke-width="0.9" stroke-linejoin="round"/>
<rect x="526.90" y="14.15" width="3.40" height="3.40" fill="#d8453a"/>
<rect x="558.30" y="15.97" width="3.40" height="3.40" fill="#d8453a"/>
<rect x="576.60" y="16.93" width="3.40" height="3.40" fill="#d8453a"/>
<rect x="589.70" y="18.94" width="3.40" height="3.40" fill="#d8453a"/>
<rect x="599.70" y="23.73" width="3.40" height="3.40" fill="#d8453a"/>
<rect x="608.10" y="33.80" width="3.40" height="3.40" fill="#d8453a"/>
<polyline points="537.00,16.52 568.40,18.05 586.60,21.60 599.80,36.84 609.80,63.77 618.00,104.70" fill="none" stroke="#3cb44b" stroke-width="0.9" stroke-linejoin="round"/>
<circle cx="537.00" cy="16.52" r="1.90" fill="#3cb44b"/>
<circle cx="568.40" cy="18.05" r="1.90" fill="#3cb44b"/>
<circle cx="586.60" cy="21.60" r="1.90" fill="#3cb44b"/>
<circle cx="599.80" cy="36.84" r="1.90" fill="#3cb44b"/>
<circle cx="609.80" cy="63.77" r="1.90" fill="#3cb44b"/>
<circle cx="618.00" cy="104.70" r="1.90" fill="#3cb44b"/>
<polyline points="545.40,15.85 576.80,17.38 595.40,19.11 609.40,34.92 618.60,47.19 627.00,105.85" fill="none" stroke="#f5b820" stroke-width="0.9" stroke-linejoin="round"/>
<path d="M545.40,13.65L547.60,17.50L543.20,17.50Z" fill="#f5b820"/>
<path d="M576.80,15.18L579.00,19.03L574.60,19.03Z" fill="#f5b820"/>
<path d="M595.40,16.91L597.60,20.76L593.20,20.76Z" fill="#f5b820"/>
<path d="M609.40,32.72L611.60,36.57L607.20,36.57Z" fill="#f5b820"/>
<path d="M618.60,44.99L620.80,48.84L616.40,48.84Z" fill="#f5b820"/>
<path d="M627.00,103.65L629.20,107.50L624.80,107.50Z" fill="#f5b820"/>
<polyline points="567.60,17.67 599.40,20.45 617.00,24.66 630.40,59.94 640.20,107.38 649.00,111.21" fill="none" stroke="#3a66c0" stroke-width="0.9" stroke-linejoin="round"/>
<path d="M567.60,19.87L569.80,16.02L565.40,16.02Z" fill="#3a66c0"/>
<path d="M599.40,22.65L601.60,18.80L597.20,18.80Z" fill="#3a66c0"/>
<path d="M617.00,26.86L619.20,23.01L614.80,23.01Z" fill="#3a66c0"/>
<path d="M630.40,62.14L632.60,58.29L628.20,58.29Z" fill="#3a66c0"/>
<path d="M640.20,109.58L642.40,105.73L638.00,105.73Z" fill="#3a66c0"/>
<path d="M649.00,113.41L651.20,109.56L646.80,109.56Z" fill="#3a66c0"/>
<polyline points="595.50,19.39 627.00,27.06 645.00,62.91 658.40,113.13 668.40,114.66" fill="none" stroke="#0f5e28" stroke-width="0.9" stroke-linejoin="round"/>
<path d="M595.50,17.19L597.70,19.39L595.50,21.59L593.30,19.39Z" fill="#0f5e28"/>
<path d="M627.00,24.86L629.20,27.06L627.00,29.26L624.80,27.06Z" fill="#0f5e28"/>
<path d="M645.00,60.71L647.20,62.91L645.00,65.11L642.80,62.91Z" fill="#0f5e28"/>
<path d="M658.40,110.93L660.60,113.13L658.40,115.33L656.20,113.13Z" fill="#0f5e28"/>
<path d="M668.40,112.46L670.60,114.66L668.40,116.86L666.20,114.66Z" fill="#0f5e28"/>
<text x="505.00" y="174.90" font-size="8" font-weight="normal" text-anchor="start" fill="#1a1a1a" stroke="#1a1a1a" stroke-width="0.28" >Channel</text>
<text x="505.00" y="185.90" font-size="8" font-weight="normal" text-anchor="start" fill="#1a1a1a" stroke="#1a1a1a" stroke-width="0.28" >Height</text>
<line x1="539.4" y1="172" x2="557.4" y2="172" stroke="#d8453a" stroke-opacity="0.8" stroke-width="1.3"/>
<rect x="546.95" y="170.56" width="2.89" height="2.89" fill="#d8453a"/>
<text x="560.60" y="174.90" font-size="8" font-weight="normal" text-anchor="start" fill="#1a1a1a" stroke="#1a1a1a" stroke-width="0.28" >100 µm</text>
<line x1="590.6" y1="172" x2="609" y2="172" stroke="#3cb44b" stroke-opacity="0.8" stroke-width="1.3"/>
<circle cx="599.80" cy="172.00" r="1.61" fill="#3cb44b"/>
<text x="612.40" y="174.90" font-size="8" font-weight="normal" text-anchor="start" fill="#1a1a1a" stroke="#1a1a1a" stroke-width="0.28" >90 µm</text>
<line x1="640.4" y1="172" x2="658.4" y2="172" stroke="#f5b820" stroke-opacity="0.8" stroke-width="1.3"/>
<path d="M649.40,170.13L651.27,173.40L647.53,173.40Z" fill="#f5b820"/>
<text x="661.60" y="174.90" font-size="8" font-weight="normal" text-anchor="start" fill="#1a1a1a" stroke="#1a1a1a" stroke-width="0.28" >80 µm</text>
<line x1="539.4" y1="183" x2="557.4" y2="183" stroke="#3a66c0" stroke-opacity="0.8" stroke-width="1.3"/>
<path d="M548.40,184.87L550.27,181.60L546.53,181.60Z" fill="#3a66c0"/>
<text x="560.60" y="185.90" font-size="8" font-weight="normal" text-anchor="start" fill="#1a1a1a" stroke="#1a1a1a" stroke-width="0.28" >60 µm</text>
<line x1="590.6" y1="183" x2="609" y2="183" stroke="#0f5e28" stroke-opacity="0.8" stroke-width="1.3"/>
<path d="M599.80,181.13L601.67,183.00L599.80,184.87L597.93,183.00Z" fill="#0f5e28"/>
<text x="612.40" y="185.90" font-size="8" font-weight="normal" text-anchor="start" fill="#1a1a1a" stroke="#1a1a1a" stroke-width="0.28" >40 µm</text>
<text x="478.60" y="199.60" font-size="15" font-weight="bold" text-anchor="start" fill="#1a1a1a" >g</text>
<line x1="513" y1="196.6" x2="513" y2="333.8" stroke="#000" stroke-width="1.9"/>
<line x1="507.2" y1="330" x2="678.4" y2="330" stroke="#000" stroke-width="1.9"/>
<line x1="507.2" y1="197.6" x2="513" y2="197.6" stroke="#000" stroke-width="1.6"/>
<text x="503.40" y="200.30" font-size="7.6" font-weight="normal" text-anchor="end" fill="#1a1a1a" stroke="#1a1a1a" stroke-width="0.28" >20</text>
<line x1="507.2" y1="231" x2="513" y2="231" stroke="#000" stroke-width="1.6"/>
<text x="503.40" y="233.70" font-size="7.6" font-weight="normal" text-anchor="end" fill="#1a1a1a" stroke="#1a1a1a" stroke-width="0.28" >15</text>
<line x1="507.2" y1="264" x2="513" y2="264" stroke="#000" stroke-width="1.6"/>
<text x="503.40" y="266.70" font-size="7.6" font-weight="normal" text-anchor="end" fill="#1a1a1a" stroke="#1a1a1a" stroke-width="0.28" >10</text>
<line x1="507.2" y1="296.8" x2="513" y2="296.8" stroke="#000" stroke-width="1.6"/>
<text x="503.40" y="299.50" font-size="7.6" font-weight="normal" text-anchor="end" fill="#1a1a1a" stroke="#1a1a1a" stroke-width="0.28" >50</text>
<line x1="507.2" y1="330" x2="513" y2="330" stroke="#000" stroke-width="1.6"/>
<text x="503.40" y="332.70" font-size="7.6" font-weight="normal" text-anchor="end" fill="#1a1a1a" stroke="#1a1a1a" stroke-width="0.28" >0</text>
<line x1="513" y1="330" x2="513" y2="334" stroke="#000" stroke-width="1.6"/>
<text x="513.00" y="344.40" font-size="7.6" font-weight="normal" text-anchor="middle" fill="#1a1a1a" stroke="#1a1a1a" stroke-width="0.28" >0.00</text>
<line x1="567.6" y1="330" x2="567.6" y2="334" stroke="#000" stroke-width="1.6"/>
<text x="567.60" y="344.40" font-size="7.6" font-weight="normal" text-anchor="middle" fill="#1a1a1a" stroke="#1a1a1a" stroke-width="0.28" >0.05</text>
<line x1="622.4" y1="330" x2="622.4" y2="334" stroke="#000" stroke-width="1.6"/>
<text x="622.40" y="344.40" font-size="7.6" font-weight="normal" text-anchor="middle" fill="#1a1a1a" stroke="#1a1a1a" stroke-width="0.28" >0.10</text>
<line x1="677.4" y1="330" x2="677.4" y2="334" stroke="#000" stroke-width="1.6"/>
<text x="677.40" y="344.40" font-size="7.6" font-weight="normal" text-anchor="middle" fill="#1a1a1a" stroke="#1a1a1a" stroke-width="0.28" >0.15</text>
<text x="592.20" y="353.40" font-size="7.6" font-weight="normal" text-anchor="middle" fill="#1a1a1a">a<tspan font-size="5.5" dy="1.6">p</tspan><tspan dy="-1.6">/h</tspan></text>
<text font-size="7.6" font-weight="normal" text-anchor="middle" fill="#1a1a1a" transform="translate(487.2,267) rotate(-90)">F<tspan font-size="5.2" dy="1.5">L</tspan><tspan dy="-1.5">/F</tspan><tspan font-size="5.2" dy="1.5">D</tspan></text>
<polyline points="513.00,330.00 514.50,330.00 516.00,330.00 517.50,329.99 519.00,329.98 520.50,329.96 522.00,329.94 523.50,329.90 525.00,329.85 526.50,329.79 528.00,329.72 529.50,329.62 531.00,329.51 532.50,329.38 534.00,329.22 535.50,329.04 537.00,328.84 538.50,328.61 540.00,328.35 541.50,328.06 543.00,327.73 544.50,327.37 546.00,326.98 547.50,326.55 549.00,326.08 550.50,325.57 552.00,325.02 553.50,324.42 555.00,323.78 556.50,323.09 558.00,322.35 559.50,321.55 561.00,320.71 562.50,319.81 564.00,318.86 565.50,317.84 567.00,316.77 568.50,315.64 570.00,314.44 571.50,313.18 573.00,311.86 574.50,310.46 576.00,309.00 577.50,307.46 579.00,305.85 580.50,304.17 582.00,302.41 583.50,300.57 585.00,298.65 586.50,296.65 588.00,294.56 589.50,292.39 591.00,290.14 592.50,287.79 594.00,285.36 595.50,282.83 597.00,280.21 598.50,277.50 600.00,274.69 601.50,271.78 603.00,268.76 604.50,265.65 606.00,262.43 607.50,259.11 609.00,255.68 610.50,252.14 612.00,248.49 613.50,244.73 615.00,240.86 616.50,236.87 618.00,232.76 619.50,228.53 621.00,224.18 622.50,219.71 624.00,215.12 625.50,210.40 627.00,205.55 628.50,200.57 629.80,196.15" fill="none" stroke="#000" stroke-width="0.8"/>
<polyline points="513.00,330.00 514.50,330.00 516.00,330.00 517.50,330.00 519.00,329.99 520.50,329.98 522.00,329.97 523.50,329.95 525.00,329.93 526.50,329.90 528.00,329.87 529.50,329.82 531.00,329.77 532.50,329.70 534.00,329.63 535.50,329.54 537.00,329.45 538.50,329.34 540.00,329.21 541.50,329.07 543.00,328.92 544.50,328.75 546.00,328.56 547.50,328.36 549.00,328.13 550.50,327.89 552.00,327.63 553.50,327.34 555.00,327.04 556.50,326.71 558.00,326.36 559.50,325.98 561.00,325.58 562.50,325.15 564.00,324.69 565.50,324.21 567.00,323.70 568.50,323.16 570.00,322.59 571.50,321.99 573.00,321.36 574.50,320.70 576.00,320.00 577.50,319.27 579.00,318.50 580.50,317.70 582.00,316.86 583.50,315.98 585.00,315.07 586.50,314.12 588.00,313.12 589.50,312.09 591.00,311.02 592.50,309.90 594.00,308.74 595.50,307.54 597.00,306.29 598.50,305.00 600.00,303.66 601.50,302.27 603.00,300.84 604.50,299.36 606.00,297.83 607.50,296.24 609.00,294.61 610.50,292.93 612.00,291.19 613.50,289.40 615.00,287.55 616.50,285.65 618.00,283.69 619.50,281.68 621.00,279.61 622.50,277.48 622.70,277.19" fill="none" stroke="#000" stroke-width="0.8"/>
<polyline points="513.00,330.00 514.50,330.00 516.00,330.00 517.50,330.00 519.00,330.00 520.50,329.99 522.00,329.98 523.50,329.97 525.00,329.96 526.50,329.94 528.00,329.92 529.50,329.90 531.00,329.87 532.50,329.83 534.00,329.79 535.50,329.74 537.00,329.68 538.50,329.62 540.00,329.55 541.50,329.47 543.00,329.38 544.50,329.28 546.00,329.18 547.50,329.06 549.00,328.93 550.50,328.79 552.00,328.64 553.50,328.48 555.00,328.30 556.50,328.12 558.00,327.91 559.50,327.70 561.00,327.47 562.50,327.22 564.00,326.96 565.50,326.69 567.00,326.39 568.50,326.09 570.00,325.76 571.50,325.42 573.00,325.05 574.50,324.67 576.00,324.27 577.50,323.86 579.00,323.42 580.50,322.96 582.00,322.48 583.50,321.98 585.00,321.45 586.50,320.91 588.00,320.34 589.50,319.75 591.00,319.13 592.50,318.49 594.00,317.83 595.40,317.19" fill="none" stroke="#000" stroke-width="0.8"/>
<polyline points="513.00,330.00 514.50,330.00 516.00,330.00 517.50,330.00 519.00,330.00 520.50,329.99 522.00,329.99 523.50,329.98 525.00,329.97 526.50,329.96 528.00,329.95 529.50,329.93 531.00,329.91 532.50,329.89 534.00,329.86 535.50,329.83 537.00,329.79 538.50,329.75 540.00,329.70 541.50,329.65 543.00,329.60 544.50,329.53 546.00,329.46 547.50,329.38 549.00,329.30 550.50,329.21 552.00,329.11 553.50,329.00 555.00,328.89 556.50,328.77 558.00,328.63 559.50,328.49 561.00,328.34 562.50,328.18 564.00,328.01 565.50,327.83 567.00,327.64 568.50,327.44 570.00,327.22 571.50,327.00 573.00,326.76 574.50,326.51 576.00,326.25 577.50,325.97 579.00,325.69 580.50,325.39 582.00,325.07 583.50,324.74 585.00,324.40 586.00,324.16" fill="none" stroke="#000" stroke-width="0.8"/>
<path d="M595.4,280.4V287.7M593.0,280.4H597.8M593.0,287.7H597.8" stroke="#000" stroke-width="0.8" fill="none"/>
<path d="M622.6,273.9V281.2M620.2,273.9H625.0M620.2,281.2H625.0" stroke="#000" stroke-width="0.8" fill="none"/>
<path d="M622,212.4V229.4M619.6,212.4H624.4M619.6,229.4H624.4" stroke="#000" stroke-width="0.8" fill="none"/>
<path d="M567.60,313.15L570.35,315.90L567.60,318.65L564.85,315.90Z" fill="#111"/>
<path d="M595.40,281.35L598.15,284.10L595.40,286.85L592.65,284.10Z" fill="#111"/>
<path d="M622.00,218.25L624.75,221.00L622.00,223.75L619.25,221.00Z" fill="#111"/>
<path d="M567.60,325.66L570.46,320.66L564.74,320.66Z" fill="#111"/>
<path d="M585.90,317.16L588.76,312.16L583.04,312.16Z" fill="#111"/>
<path d="M604.10,301.96L606.96,296.96L601.24,296.96Z" fill="#111"/>
<path d="M622.70,280.06L625.56,275.06L619.84,275.06Z" fill="#111"/>
<path d="M595.40,314.34L598.26,319.34L592.54,319.34Z" fill="#111"/>
<rect x="573.96" y="323.76" width="4.08" height="4.08" fill="#111"/>
<rect x="578.46" y="322.76" width="4.08" height="4.08" fill="#111"/>
<rect x="583.86" y="321.16" width="4.08" height="4.08" fill="#111"/>
<rect x="587.96" y="320.16" width="4.08" height="4.08" fill="#111"/>
<circle cx="522.00" cy="329.00" r="2.47" fill="#111"/>
<circle cx="525.00" cy="329.00" r="2.47" fill="#111"/>
<circle cx="529.00" cy="329.00" r="2.47" fill="#111"/>
<circle cx="533.00" cy="329.00" r="2.47" fill="#111"/>
<circle cx="538.00" cy="328.80" r="2.47" fill="#111"/>
<circle cx="541.00" cy="328.60" r="2.47" fill="#111"/>
<circle cx="545.00" cy="328.60" r="2.47" fill="#111"/>
<circle cx="549.00" cy="328.40" r="2.47" fill="#111"/>
<circle cx="553.00" cy="328.20" r="2.47" fill="#111"/>
<circle cx="556.00" cy="328.00" r="2.47" fill="#111"/>
<circle cx="560.00" cy="327.60" r="2.47" fill="#111"/>
<circle cx="563.00" cy="327.40" r="2.47" fill="#111"/>
<circle cx="567.00" cy="327.00" r="2.47" fill="#111"/>
<circle cx="571.00" cy="326.60" r="2.47" fill="#111"/>
<path d="M531.00,331.26L533.86,326.25L528.14,326.25Z" fill="#111"/>
<path d="M543.00,330.86L545.86,325.86L540.14,325.86Z" fill="#111"/>
<path d="M552.00,330.26L554.86,325.25L549.14,325.25Z" fill="#111"/>
<path d="M558.00,329.86L560.86,324.86L555.14,324.86Z" fill="#111"/>
<path d="M536.00,324.96L538.64,327.60L536.00,330.24L533.36,327.60Z" fill="#111"/>
<path d="M547.00,324.56L549.64,327.20L547.00,329.84L544.36,327.20Z" fill="#111"/>
<line x1="538.3" y1="206" x2="538.3" y2="237.3" stroke="#000" stroke-width="1"/>
<line x1="533" y1="232.2" x2="617" y2="232.2" stroke="#000" stroke-width="1"/>
<line x1="533.6" y1="224.2" x2="538.3" y2="224.2" stroke="#000" stroke-width="1"/>
<line x1="595" y1="232.2" x2="595" y2="236.2" stroke="#000" stroke-width="1"/>
<line x1="538.3" y1="224.2" x2="619" y2="224.2" stroke="#000" stroke-width="0.7" stroke-dasharray="0.9,1.6"/>
<text x="528.80" y="226.00" font-size="6" font-weight="normal" text-anchor="end" fill="#1a1a1a" stroke="#1a1a1a" stroke-width="0.28" >0.35</text>
<text x="520.00" y="234.80" font-size="6" font-weight="normal" text-anchor="end" fill="#1a1a1a" stroke="#1a1a1a" stroke-width="0.28" >0</text>
<text x="538.30" y="246.60" font-size="6" font-weight="normal" text-anchor="middle" fill="#1a1a1a" stroke="#1a1a1a" stroke-width="0.28" >0</text>
<text x="595.20" y="246.60" font-size="6" font-weight="normal" text-anchor="middle" fill="#1a1a1a" stroke="#1a1a1a" stroke-width="0.28" >0.4</text>
<defs><pattern id="hat" patternUnits="userSpaceOnUse" width="2.4" height="2.4" patternTransform="rotate(-45)"><rect width="2.4" height="2.4" fill="#fff"/><line x1="0" y1="0" x2="0" y2="2.4" stroke="#000" stroke-width="1.5"/></pattern><pattern id="grd" patternUnits="userSpaceOnUse" width="1.8" height="1.8"><rect width="1.8" height="1.8" fill="#fff"/><path d="M0,0H1.8M0,0V1.8" stroke="#000" stroke-width="0.8"/></pattern></defs>
<path d="M576,223.5 Q590,219 596,206 L595.6,222 L578,224 Z" fill="url(#hat)"/>
<path d="M574,225 Q590,219.5 596.2,205.5" fill="none" stroke="#000" stroke-width="0.6"/>
<path d="M552,232 Q582,230 612,222" fill="none" stroke="#000" stroke-width="0.5"/>
<path d="M576,223.8 L596,222 L596,231.4 L576,231.4 Z" fill="url(#grd)"/>

<circle cx="552.60" cy="232.20" r="2.18" fill="#111"/>
<circle cx="554.80" cy="232.20" r="2.18" fill="#111"/>
<circle cx="567.20" cy="231.50" r="2.18" fill="#111"/>
<circle cx="570.90" cy="231.50" r="2.18" fill="#111"/>
<circle cx="595.00" cy="227.40" r="2.18" fill="#111"/>
<circle cx="609.60" cy="223.50" r="2.18" fill="#111"/>
<circle cx="581.00" cy="230.20" r="2.18" fill="#111"/>
<rect x="584.42" y="227.12" width="3.57" height="3.57" fill="#111"/>
<rect x="584.42" y="223.41" width="3.57" height="3.57" fill="#111"/>
<rect x="599.72" y="222.41" width="3.57" height="3.57" fill="#111"/>
<rect x="589.22" y="227.72" width="3.57" height="3.57" fill="#111"/>
<path d="M561.80,233.00L564.00,229.15L559.60,229.15Z" fill="#111"/>
<path d="M609.60,210.63L612.13,206.20L607.07,206.20Z" fill="#111"/>
<path d="M573.80,223.58L576.22,226.00L573.80,228.42L571.38,226.00Z" fill="#111"/>
<path d="M609.60,216.58L612.02,219.00L609.60,221.42L607.18,219.00Z" fill="#111"/>
<path d="M595,220 L609.6,208.1 M601,222 L617,213.5 M603,223 L617,217.5 M604,224 L616,221" stroke="#000" stroke-width="0.5" fill="none"/>
<text x="502.60" y="364.80" font-size="8" font-weight="normal" text-anchor="start" fill="#1a1a1a" stroke="#1a1a1a" stroke-width="0.28" >Channel</text>
<text x="502.60" y="375.20" font-size="8" font-weight="normal" text-anchor="start" fill="#1a1a1a" stroke="#1a1a1a" stroke-width="0.28" >Height</text>
<line x1="539" y1="362" x2="552" y2="362" stroke="#000" stroke-width="0.9"/>
<circle cx="545.50" cy="362.00" r="2.28" fill="#111"/>
<text x="556.00" y="364.90" font-size="8" font-weight="normal" text-anchor="start" fill="#1a1a1a" stroke="#1a1a1a" stroke-width="0.28" >100 µm</text>
<line x1="589" y1="362" x2="602" y2="362" stroke="#000" stroke-width="0.9"/>
<path d="M595.50,359.36L598.14,363.98L592.86,363.98Z" fill="#111"/>
<text x="606.00" y="364.90" font-size="8" font-weight="normal" text-anchor="start" fill="#1a1a1a" stroke="#1a1a1a" stroke-width="0.28" >80 µm</text>
<line x1="639" y1="362" x2="653" y2="362" stroke="#000" stroke-width="0.9"/>
<rect x="643.96" y="359.96" width="4.08" height="4.08" fill="#111"/>
<text x="655.40" y="364.90" font-size="8" font-weight="normal" text-anchor="start" fill="#1a1a1a" stroke="#1a1a1a" stroke-width="0.28" >90 µm</text>
<line x1="539" y1="372.4" x2="552" y2="372.4" stroke="#000" stroke-width="0.9"/>
<path d="M545.50,375.04L548.14,370.42L542.86,370.42Z" fill="#111"/>
<text x="556.00" y="375.30" font-size="8" font-weight="normal" text-anchor="start" fill="#1a1a1a" stroke="#1a1a1a" stroke-width="0.28" >60 µm</text>
<line x1="589" y1="372.4" x2="602" y2="372.4" stroke="#000" stroke-width="0.9"/>
<path d="M595.50,369.76L598.14,372.40L595.50,375.04L592.86,372.40Z" fill="#111"/>
<text x="606.00" y="375.30" font-size="8" font-weight="normal" text-anchor="start" fill="#1a1a1a" stroke="#1a1a1a" stroke-width="0.28" >40 µm</text>
<text x="478.80" y="399.80" font-size="15" font-weight="bold" text-anchor="start" fill="#1a1a1a" >h</text>
<line x1="537.2" y1="403" x2="537.2" y2="542.4" stroke="#ebebeb" stroke-width="0.7"/>
<line x1="562" y1="403" x2="562" y2="542.4" stroke="#ebebeb" stroke-width="0.7"/>
<line x1="586.8" y1="403" x2="586.8" y2="542.4" stroke="#ebebeb" stroke-width="0.7"/>
<line x1="611.6" y1="403" x2="611.6" y2="542.4" stroke="#ebebeb" stroke-width="0.7"/>
<line x1="636.4" y1="403" x2="636.4" y2="542.4" stroke="#ebebeb" stroke-width="0.7"/>
<line x1="661.2" y1="403" x2="661.2" y2="542.4" stroke="#ebebeb" stroke-width="0.7"/>
<line x1="512" y1="416" x2="679.4" y2="416" stroke="#ebebeb" stroke-width="0.7"/>
<line x1="512" y1="440.8" x2="679.4" y2="440.8" stroke="#ebebeb" stroke-width="0.7"/>
<line x1="512" y1="465.6" x2="679.4" y2="465.6" stroke="#ebebeb" stroke-width="0.7"/>
<line x1="512" y1="490.4" x2="679.4" y2="490.4" stroke="#ebebeb" stroke-width="0.7"/>
<line x1="512" y1="515.2" x2="679.4" y2="515.2" stroke="#ebebeb" stroke-width="0.7"/>
<line x1="512" y1="540" x2="679.4" y2="540" stroke="#ebebeb" stroke-width="0.7"/>
<rect x="512" y="403" width="167.40" height="139.60" fill="none" stroke="#000" stroke-width="1.6"/>
<line x1="508.4" y1="440.6" x2="512" y2="440.6" stroke="#000" stroke-width="1"/>
<text x="505.80" y="443.20" font-size="7.2" font-weight="bold" text-anchor="end" fill="#1a1a1a" >2</text>
<line x1="508.4" y1="490.3" x2="512" y2="490.3" stroke="#000" stroke-width="1"/>
<text x="505.80" y="492.90" font-size="7.2" font-weight="bold" text-anchor="end" fill="#1a1a1a" >0</text>
<line x1="508.4" y1="539.9" x2="512" y2="539.9" stroke="#000" stroke-width="1"/>
<text x="505.80" y="542.50" font-size="7.2" font-weight="bold" text-anchor="end" fill="#1a1a1a" >-2</text>
<line x1="512.4" y1="542.6" x2="512.4" y2="546" stroke="#000" stroke-width="1"/>
<text x="512.40" y="556.20" font-size="7.2" font-weight="bold" text-anchor="middle" fill="#1a1a1a" >-2</text>
<line x1="562" y1="542.6" x2="562" y2="546" stroke="#000" stroke-width="1"/>
<text x="562.00" y="556.20" font-size="7.2" font-weight="bold" text-anchor="middle" fill="#1a1a1a" >0</text>
<line x1="611.6" y1="542.6" x2="611.6" y2="546" stroke="#000" stroke-width="1"/>
<text x="611.60" y="556.20" font-size="7.2" font-weight="bold" text-anchor="middle" fill="#1a1a1a" >2</text>
<line x1="661.2" y1="542.6" x2="661.2" y2="546" stroke="#000" stroke-width="1"/>
<text x="661.20" y="556.20" font-size="7.2" font-weight="bold" text-anchor="middle" fill="#1a1a1a" >4</text>
<text x="595.00" y="569.00" font-size="8" font-weight="bold" text-anchor="middle" fill="#1a1a1a" >PC1 (55.6%)</text>
<text x="0.00" y="0.00" font-size="7.9" font-weight="bold" text-anchor="middle" fill="#1a1a1a" transform="translate(485.2,472.4) rotate(-90)">PC2 (33.9%)</text>
<circle cx="562" cy="490.4" r="42.3" fill="none" stroke="#a8c8a8" stroke-width="0.7"/>
<ellipse cx="562.2" cy="455.2" rx="16" ry="48" transform="rotate(-16 562.2 455.2)" fill="none" stroke="#1f9e8c" stroke-width="0.8"/>
<ellipse cx="615.2" cy="494.4" rx="52" ry="35" transform="rotate(35 615.2 494.4)" fill="none" stroke="#3b4d8f" stroke-width="0.7"/>
<ellipse cx="548.4" cy="487.5" rx="3.2" ry="17.5" transform="rotate(4 548.4 487.5)" fill="none" stroke="#45bde0" stroke-width="0.8"/>
<circle cx="559" cy="425.6" r="2" fill="#12a07e"/>
<circle cx="562.6" cy="428" r="2" fill="#12a07e"/>
<circle cx="555" cy="451" r="2" fill="#12a07e"/>
<circle cx="585" cy="498" r="2" fill="#12a07e"/>
<circle cx="595" cy="438" r="1.9" fill="#2e418a"/>
<circle cx="589" cy="506" r="1.9" fill="#2e418a"/>
<circle cx="597.4" cy="506" r="1.9" fill="#2e418a"/>
<circle cx="609" cy="507" r="1.9" fill="#2e418a"/>
<circle cx="629.6" cy="504.4" r="1.9" fill="#2e418a"/>
<circle cx="672" cy="504" r="1.9" fill="#2e418a"/>
<circle cx="548.6" cy="472.8" r="1.7" fill="#44bbe0"/>
<circle cx="549.6" cy="475.6" r="1.7" fill="#44bbe0"/>
<circle cx="549.6" cy="478.6" r="1.7" fill="#44bbe0"/>
<circle cx="549.8" cy="486" r="1.7" fill="#44bbe0"/>
<circle cx="545.7" cy="488.5" r="1.7" fill="#44bbe0"/>
<circle cx="548.2" cy="502.5" r="1.7" fill="#44bbe0"/>
<circle cx="544" cy="495" r="1.6" fill="#e5532f"/>
<circle cx="545" cy="500.2" r="1.6" fill="#e5532f"/>
<circle cx="544.2" cy="502" r="1.6" fill="#e5532f"/>
<circle cx="543.4" cy="503.6" r="1.6" fill="#e5532f"/>
<circle cx="542.8" cy="505.2" r="1.6" fill="#e5532f"/>
<circle cx="542.4" cy="506.8" r="1.6" fill="#e5532f"/>
<circle cx="541.9" cy="508.4" r="1.6" fill="#e5532f"/>
<circle cx="541.6" cy="509.8" r="1.6" fill="#e5532f"/>
<circle cx="543.6" cy="501" r="1.6" fill="#e5532f"/>
<path d="M561.8,490.3L558,449.5M559.65,452.24L558,449.5L556.88,452.50" stroke="#8e2c2c" stroke-width="0.8" fill="none"/>
<path d="M561.8,490.3L523.4,498.6M525.92,496.63L523.4,498.6L526.51,499.35" stroke="#8e2c2c" stroke-width="0.8" fill="none"/>
<path d="M561.8,490.3L600.9,493.6M597.91,494.74L600.9,493.6L598.15,491.97" stroke="#8e2c2c" stroke-width="0.8" fill="none"/>
<text x="0.00" y="0.00" font-size="7.8" font-weight="normal" text-anchor="middle" fill="#a02424" stroke="#a02424" stroke-width="0.28" transform="translate(553.0,434.6) rotate(88)">w1/w</text>
<text x="0.00" y="0.00" font-size="8.6" font-weight="normal" text-anchor="middle" fill="#a02828" stroke="#a02828" stroke-width="0.1" transform="translate(518.4,502.2) rotate(-12)">DI</text>
<text x="606.20" y="497.20" font-size="8.2" font-weight="normal" text-anchor="start" fill="#a02828" stroke="#a02828" stroke-width="0.05" letter-spacing="0.15">FL/FD</text>
<text x="630.00" y="412.20" font-size="6.2" font-weight="normal" text-anchor="start" fill="#1a1a1a" stroke="#1a1a1a" stroke-width="0.12" >ap/h</text>
<circle cx="632.4" cy="419" r="1.75" fill="#e5532f"/>
<text x="638.80" y="421.20" font-size="6.2" font-weight="normal" text-anchor="start" fill="#1a1a1a" stroke="#1a1a1a" stroke-width="0.12" >(0, 0.04)</text>
<circle cx="632.4" cy="426.4" r="1.75" fill="#44bbe0"/>
<text x="638.80" y="428.60" font-size="6.2" font-weight="normal" text-anchor="start" fill="#1a1a1a" stroke="#1a1a1a" stroke-width="0.12" >(0.04, 0.05)</text>
<circle cx="632.4" cy="433.6" r="1.75" fill="#12a07e"/>
<text x="638.80" y="435.80" font-size="6.2" font-weight="normal" text-anchor="start" fill="#1a1a1a" stroke="#1a1a1a" stroke-width="0.12" >(0.05, 0.07)</text>
<circle cx="632.4" cy="441" r="1.75" fill="#2e418a"/>
<text x="638.80" y="443.20" font-size="6.2" font-weight="normal" text-anchor="start" fill="#1a1a1a" stroke="#1a1a1a" stroke-width="0.12" >(0.07, 0.5)</text>
<defs><filter id="bl1" x="-20%" y="-20%" width="140%" height="140%"><feGaussianBlur stdDeviation="0.8"/></filter><filter id="bl2" x="-30%" y="-30%" width="160%" height="160%"><feGaussianBlur stdDeviation="1.6"/></filter><filter id="bl05" x="-20%" y="-20%" width="140%" height="140%"><feGaussianBlur stdDeviation="0.45"/></filter><radialGradient id="gglow" cx="0.85" cy="1" r="0.7"><stop offset="0" stop-color="#4a4a4a"/><stop offset="0.5" stop-color="#263026"/><stop offset="1" stop-color="#0b2a0b" stop-opacity="0"/></radialGradient><linearGradient id="rglow" x1="0" y1="0" x2="0" y2="1"><stop offset="0" stop-color="#000"/><stop offset="0.45" stop-color="#1a0000"/><stop offset="0.62" stop-color="#4a0505"/><stop offset="0.66" stop-color="#000"/><stop offset="1" stop-color="#000"/></linearGradient></defs>
<clipPath id="ca0"><rect x="17.3" y="11.1" width="51.60" height="67.40"/></clipPath>
<rect x="17.3" y="11.1" width="51.60" height="67.40" fill="#000"/>
<path d="M10,32.4 H49 Q55,32.4 59.5,28 L75,12.5" fill="none" stroke="#0a7a0a" stroke-opacity="1" stroke-width="8.60" stroke-linejoin="round" stroke-linecap="butt" clip-path="url(#ca0)" filter="url(#bl05)"/>
<path d="M10,32.4 H49 Q55,32.4 59.5,28 L75,12.5" fill="none" stroke="#16b016" stroke-opacity="1" stroke-width="6.45" stroke-linejoin="round" stroke-linecap="butt" clip-path="url(#ca0)" filter="url(#bl05)"/>
<path d="M10,32.4 H49 Q55,32.4 59.5,28 L75,12.5" fill="none" stroke="#22d422" stroke-opacity="1" stroke-width="3.87" stroke-linejoin="round" stroke-linecap="butt" clip-path="url(#ca0)" filter="url(#bl05)"/>
<path d="M10,32.4 H49 Q55,32.4 59.5,28 L75,12.5" fill="none" stroke="#0c8a0c" stroke-opacity="0.6" stroke-width="1.29" stroke-linejoin="round" stroke-linecap="butt" clip-path="url(#ca0)" filter="url(#bl05)"/>
<path d="M17.900000000000002,26.4H50.9L66.1,11.8 M17.900000000000002,57.8H50.9L66.1,72.2 M68.9,29L55.7,42L68.9,55.7" fill="none" stroke="#f4f4f4" stroke-width="1.7" stroke-dasharray="3,1.5" clip-path="url(#ca0)"/>
<clipPath id="ca1"><rect x="78.1" y="10.8" width="49.70" height="67.10"/></clipPath>
<rect x="78.1" y="10.8" width="49.70" height="67.10" fill="#000"/>
<path d="M70,27.2 H110 Q116,27.2 119.5,23.7 L133,10.2" fill="none" stroke="#067a06" stroke-opacity="0.8" stroke-width="5.75" stroke-linejoin="round" stroke-linecap="butt" clip-path="url(#ca1)" filter="url(#bl05)"/>
<path d="M70,27.2 H110 Q116,27.2 119.5,23.7 L133,10.2" fill="none" stroke="#0ed80e" stroke-opacity="1" stroke-width="4.60" stroke-linejoin="round" stroke-linecap="butt" clip-path="url(#ca1)" filter="url(#bl05)"/>
<path d="M70,27.2 H110 Q116,27.2 119.5,23.7 L133,10.2" fill="none" stroke="#2cf02c" stroke-opacity="1" stroke-width="2.30" stroke-linejoin="round" stroke-linecap="butt" clip-path="url(#ca1)" filter="url(#bl05)"/>
<path d="M78.69999999999999,23.9H111.2L125.2,10.5 M78.69999999999999,56.9H110L125.2,74 M127.8,32.8L118.2,41.3L127.8,51.2" fill="none" stroke="#f4f4f4" stroke-width="1.7" stroke-dasharray="3,1.5" clip-path="url(#ca1)"/>
<clipPath id="ca2"><rect x="137.7" y="11.9" width="48.30" height="66.60"/></clipPath>
<rect x="137.7" y="11.9" width="48.30" height="66.60" fill="#010a02"/>
<path d="M130,30.3 H171 Q177,30.3 180.5,26.8 L193,14.3" fill="none" stroke="#063806" stroke-opacity="0.8" stroke-width="9.36" stroke-linejoin="round" stroke-linecap="butt" clip-path="url(#ca2)" filter="url(#bl05)"/>
<path d="M130,30.3 H171 Q177,30.3 180.5,26.8 L193,14.3" fill="none" stroke="#14c014" stroke-opacity="1" stroke-width="5.20" stroke-linejoin="round" stroke-linecap="butt" clip-path="url(#ca2)" filter="url(#bl05)"/>
<path d="M130,30.3 H171 Q177,30.3 180.5,26.8 L193,14.3" fill="none" stroke="#26e026" stroke-opacity="1" stroke-width="2.86" stroke-linejoin="round" stroke-linecap="butt" clip-path="url(#ca2)" filter="url(#bl05)"/>
<path d="M138.29999999999998,27.5H172.9L185.2,16.1 M138.29999999999998,59.7H171.3L185.2,73.1 M186,35.4L177.3,43.3L186,51.3" fill="none" stroke="#f4f4f4" stroke-width="1.7" stroke-dasharray="3,1.5" clip-path="url(#ca2)"/>
<clipPath id="ca3"><rect x="195.3" y="10.7" width="48.70" height="67.50"/></clipPath>
<rect x="195.3" y="10.7" width="48.70" height="67.50" fill="#2b2b2b"/>
<path d="M190,27.7 H226.5 Q232,27.7 235.5,24.2 L250,9.7" fill="none" stroke="#105a10" stroke-opacity="0.8" stroke-width="5.32" stroke-linejoin="round" stroke-linecap="butt" clip-path="url(#ca3)" filter="url(#bl05)"/>
<path d="M190,27.7 H226.5 Q232,27.7 235.5,24.2 L250,9.7" fill="none" stroke="#1aa61a" stroke-opacity="1" stroke-width="3.80" stroke-linejoin="round" stroke-linecap="butt" clip-path="url(#ca3)" filter="url(#bl05)"/>
<path d="M190,27.7 H226.5 Q232,27.7 235.5,24.2 L250,9.7" fill="none" stroke="#22c022" stroke-opacity="1" stroke-width="1.90" stroke-linejoin="round" stroke-linecap="butt" clip-path="url(#ca3)" filter="url(#bl05)"/>
<path d="M195.9,25.8H228L242.8,12.7 M195.9,58.4H224.6L242.8,76.5 M244,29.5L229.7,44.6L244,59.7" fill="none" stroke="#f4f4f4" stroke-width="1.7" stroke-dasharray="3,1.5" clip-path="url(#ca3)"/>
<clipPath id="ca4"><rect x="17.4" y="87.7" width="51.20" height="69.80"/></clipPath>
<rect x="17.4" y="87.7" width="51.20" height="69.80" fill="#000"/>
<path d="M10,107.5 H51.8 L66,96 L72,90 V111.7 L57.3,124 L72,138 V160 L67,155 Q57,139.4 47.6,135.4 L10,135.2 Z" fill="#1ccd1c" clip-path="url(#ca4)"/>
<path d="M10,114 H50 Q56,114 60,110 L74,96" fill="none" stroke="#10a010" stroke-opacity="0.7" stroke-width="4.00" stroke-linejoin="round" stroke-linecap="butt" clip-path="url(#ca4)" filter="url(#bl05)"/>
<path d="M10,114 H50 Q56,114 60,110 L74,96" fill="none" stroke="#0b880b" stroke-opacity="0.8" stroke-width="1.40" stroke-linejoin="round" stroke-linecap="butt" clip-path="url(#ca4)" filter="url(#bl05)"/>
<path d="M10,119 H48 Q55,119 60,114 L74,101" fill="none" stroke="#0e900e" stroke-opacity="0.6" stroke-width="1.20" stroke-linejoin="round" stroke-linecap="butt" clip-path="url(#ca4)" filter="url(#bl05)"/>
<path d="M18.0,107.5H51.8L65.2,96.1 M18.0,140.7H51.8L65.2,152.8 M68.6,111.7L57.3,124L68.6,135.2" fill="none" stroke="#f4f4f4" stroke-width="1.7" stroke-dasharray="3,1.5" clip-path="url(#ca4)"/>
<clipPath id="ca5"><rect x="77.8" y="87.7" width="50.40" height="69.80"/></clipPath>
<rect x="77.8" y="87.7" width="50.40" height="69.80" fill="#072407"/>
<path d="M70,113.8 H103.6 Q110,113.8 114,109.8 L134,89.8" fill="none" stroke="#0c6a0c" stroke-opacity="1" stroke-width="12.60" stroke-linejoin="round" stroke-linecap="butt" clip-path="url(#ca5)" filter="url(#bl05)"/>
<path d="M70,113.8 H103.6 Q110,113.8 114,109.8 L134,89.8" fill="none" stroke="#118a11" stroke-opacity="1" stroke-width="10.08" stroke-linejoin="round" stroke-linecap="butt" clip-path="url(#ca5)" filter="url(#bl05)"/>
<path d="M70,113.8 H103.6 Q110,113.8 114,109.8 L134,89.8" fill="none" stroke="#16b016" stroke-opacity="1" stroke-width="6.93" stroke-linejoin="round" stroke-linecap="butt" clip-path="url(#ca5)" filter="url(#bl05)"/>
<path d="M70,113.8 H103.6 Q110,113.8 114,109.8 L134,89.8" fill="none" stroke="#20d020" stroke-opacity="1" stroke-width="5.04" stroke-linejoin="round" stroke-linecap="butt" clip-path="url(#ca5)" filter="url(#bl05)"/>
<path d="M70,113.8 H103.6 Q110,113.8 114,109.8 L134,89.8" fill="none" stroke="#0c7c0c" stroke-opacity="0.7" stroke-width="1.51" stroke-linejoin="round" stroke-linecap="butt" clip-path="url(#ca5)" filter="url(#bl05)"/>
<path d="M70,109.8 H104 Q108,109.8 111,106.8 L131,86.8" fill="none" stroke="#22dc22" stroke-opacity="1" stroke-width="3.40" stroke-linejoin="round" stroke-linecap="butt" clip-path="url(#ca5)" filter="url(#bl05)"/>
<path d="M78.39999999999999,106.7H104.6L124.8,88.7 M78.39999999999999,139.4H105.5L121.4,156.2 M128.2,111.7L113.4,124.3L128.2,139.4" fill="none" stroke="#f4f4f4" stroke-width="1.7" stroke-dasharray="3,1.5" clip-path="url(#ca5)"/>
<clipPath id="ca6"><rect x="137.7" y="88.2" width="48.30" height="69.30"/></clipPath>
<rect x="137.7" y="88.2" width="48.30" height="69.30" fill="#0a1817"/>
<path d="M130,114.2 H164 Q170,114.2 174,110.2 L192,92.2" fill="none" stroke="#0a5c12" stroke-opacity="1" stroke-width="10.20" stroke-linejoin="round" stroke-linecap="butt" clip-path="url(#ca6)" filter="url(#bl05)"/>
<path d="M130,114.2 H164 Q170,114.2 174,110.2 L192,92.2" fill="none" stroke="#109a18" stroke-opacity="1" stroke-width="8.16" stroke-linejoin="round" stroke-linecap="butt" clip-path="url(#ca6)" filter="url(#bl05)"/>
<path d="M130,114.2 H164 Q170,114.2 174,110.2 L192,92.2" fill="none" stroke="#1cc51c" stroke-opacity="1" stroke-width="5.61" stroke-linejoin="round" stroke-linecap="butt" clip-path="url(#ca6)" filter="url(#bl05)"/>
<path d="M130,114.2 H164 Q170,114.2 174,110.2 L192,92.2" fill="none" stroke="#28dc28" stroke-opacity="1" stroke-width="3.06" stroke-linejoin="round" stroke-linecap="butt" clip-path="url(#ca6)" filter="url(#bl05)"/>
<path d="M138.29999999999998,108.8H165.9L183.5,91.1 M138.29999999999998,140.7H165.1L181,154.5 M186,110.9L169.3,126.8L186,139.4" fill="none" stroke="#f4f4f4" stroke-width="1.7" stroke-dasharray="3,1.5" clip-path="url(#ca6)"/>
<clipPath id="ca7"><rect x="195.3" y="88.2" width="48.70" height="69.30"/></clipPath>
<rect x="195.3" y="88.2" width="48.70" height="69.30" fill="#032203"/>
<path d="M244,110.9L228.8,126L244,141.9Z" fill="#021602" filter="url(#bl05)" clip-path="url(#ca7)"/>
<path d="M188,113 H224 Q231,113 235,109 L252,92" fill="none" stroke="#0a6a0a" stroke-opacity="1" stroke-width="9.40" stroke-linejoin="round" stroke-linecap="butt" clip-path="url(#ca7)" filter="url(#bl05)"/>
<path d="M188,113 H224 Q231,113 235,109 L252,92" fill="none" stroke="#12a012" stroke-opacity="1" stroke-width="7.05" stroke-linejoin="round" stroke-linecap="butt" clip-path="url(#ca7)" filter="url(#bl05)"/>
<path d="M188,113 H224 Q231,113 235,109 L252,92" fill="none" stroke="#1ed01e" stroke-opacity="1" stroke-width="4.23" stroke-linejoin="round" stroke-linecap="butt" clip-path="url(#ca7)" filter="url(#bl05)"/>
<path d="M188,129 H224 Q231,129 235,133 L252,150" fill="none" stroke="#0e6a0e" stroke-opacity="0.8" stroke-width="0.80" stroke-linejoin="round" stroke-linecap="butt" clip-path="url(#ca7)" filter="url(#bl05)"/>
<path d="M195.9,107.8H226.3L243.1,90.7 M195.9,139.1H226L242.8,156.2 M244,110.9L228.8,126L244,141.9" fill="none" stroke="#f4f4f4" stroke-width="1.7" stroke-dasharray="3,1.5" clip-path="url(#ca7)"/>
<clipPath id="ca8"><rect x="16.9" y="166.7" width="51.90" height="69.60"/></clipPath>
<rect x="16.9" y="166.7" width="51.90" height="69.60" fill="#0b280b"/>
<rect x="16.9" y="166.7" width="51.9" height="69.60000000000002" fill="url(#gglow)" clip-path="url(#ca8)"/>
<path d="M10,210.6 H44 Q54,210.6 59.5,214.6 L75,229" fill="none" stroke="#22d022" stroke-opacity="1" stroke-width="1.50" stroke-linejoin="round" stroke-linecap="butt" clip-path="url(#ca8)" filter="url(#bl05)"/>
<path d="M17.5,185.5H52.1L64.9,172.5 M17.5,217.2H53L67.5,231 M68.8,189.2L57.6,200L68.8,211.9" fill="none" stroke="#f4f4f4" stroke-width="1.7" stroke-dasharray="3,1.5" clip-path="url(#ca8)"/>
<clipPath id="ca9"><rect x="78" y="166.7" width="48.70" height="69.80"/></clipPath>
<rect x="78" y="166.7" width="48.70" height="69.80" fill="#0e1520"/>
<path d="M70,185.7 H109.4 L127,168 L132,163 V186.5 L110.6,202.4 L132,222 V240 L124,236 L104.5,213.6 L70,213.4 Z" fill="#18a018" clip-path="url(#ca9)"/>
<path d="M70,196 H105 Q110,196 114,192 L132,174" fill="none" stroke="#1cbc1c" stroke-opacity="1" stroke-width="7.00" stroke-linejoin="round" stroke-linecap="butt" clip-path="url(#ca9)" filter="url(#bl05)"/>
<path d="M70,196 H105 Q110,196 114,192 L132,174" fill="none" stroke="#22cc22" stroke-opacity="1" stroke-width="3.50" stroke-linejoin="round" stroke-linecap="butt" clip-path="url(#ca9)" filter="url(#bl05)"/>
<path d="M70,209 H103 Q108,209 112,213 L132,232" fill="none" stroke="#0a400a" stroke-opacity="0.6" stroke-width="1.00" stroke-linejoin="round" stroke-linecap="butt" clip-path="url(#ca9)" filter="url(#bl05)"/>
<path d="M70,204 H104 Q109,204 113,208 L132,226" fill="none" stroke="#18b018" stroke-opacity="1" stroke-width="2.40" stroke-linejoin="round" stroke-linecap="butt" clip-path="url(#ca9)" filter="url(#bl05)"/>
<path d="M78.6,184.5H109.4L125.4,168.4 M78.6,217H107.7L125.4,231.8 M126.7,186.5L110.6,202.4L126.7,219.2" fill="none" stroke="#f4f4f4" stroke-width="1.7" stroke-dasharray="3,1.5" clip-path="url(#ca9)"/>
<clipPath id="ca10"><rect x="137.4" y="166.7" width="48.70" height="69.80"/></clipPath>
<rect x="137.4" y="166.7" width="48.70" height="69.80" fill="#000"/>
<path d="M130,185.7 H164.8 L184,166.7 L192,160 V188.2 L171.5,203.3 L192,220 V240 L182,236.5 L161.5,215.9 L130,215.9 Z" fill="#14c414" clip-path="url(#ca10)"/>
<path d="M130,192 H163 Q169,192 173,188 L192,169" fill="none" stroke="#10a810" stroke-opacity="0.6" stroke-width="5.00" stroke-linejoin="round" stroke-linecap="butt" clip-path="url(#ca10)" filter="url(#bl05)"/>
<path d="M130,210 H161 Q167,210 171,214 L192,234" fill="none" stroke="#0e9e0e" stroke-opacity="0.6" stroke-width="3.00" stroke-linejoin="round" stroke-linecap="butt" clip-path="url(#ca10)" filter="url(#bl05)"/>
<path d="M138.0,184.8H164.8L184.1,166.7 M138.0,219.2H163.1L182.4,236 M186.1,188.2L171.5,203.3L186.1,216.7" fill="none" stroke="#f4f4f4" stroke-width="1.7" stroke-dasharray="3,1.5" clip-path="url(#ca10)"/>
<clipPath id="ca11"><rect x="195.3" y="166.7" width="48.60" height="69.60"/></clipPath>
<rect x="195.3" y="166.7" width="48.60" height="69.60" fill="#021c02"/>
<path d="M243.9,188.8L229,202.4L243.9,217.8Z" fill="#000" filter="url(#bl05)" clip-path="url(#ca11)"/>
<path d="M195.3,166.7H247.97L228.3,186.5H195.3Z" fill="#000a00" filter="url(#bl05)" clip-path="url(#ca11)"/>
<path d="M188,190 H226 Q232,190 236,186 L252,170" fill="none" stroke="#063e06" stroke-opacity="0.9" stroke-width="8.58" stroke-linejoin="round" stroke-linecap="butt" clip-path="url(#ca11)" filter="url(#bl05)"/>
<path d="M188,190 H226 Q232,190 236,186 L252,170" fill="none" stroke="#109010" stroke-opacity="1" stroke-width="6.60" stroke-linejoin="round" stroke-linecap="butt" clip-path="url(#ca11)" filter="url(#bl05)"/>
<path d="M188,190 H226 Q232,190 236,186 L252,170" fill="none" stroke="#1cc81c" stroke-opacity="1" stroke-width="3.96" stroke-linejoin="round" stroke-linecap="butt" clip-path="url(#ca11)" filter="url(#bl05)"/>
<path d="M188,190 H226 Q232,190 236,186 L252,170" fill="none" stroke="#28e028" stroke-opacity="1" stroke-width="1.98" stroke-linejoin="round" stroke-linecap="butt" clip-path="url(#ca11)" filter="url(#bl05)"/>
<path d="M195.9,186.5H228.3L243.5,171.2 M195.9,218.5H228.3L243.9,232.4 M243.9,188.8L229,202.4L243.9,217.8" fill="none" stroke="#f4f4f4" stroke-width="1.7" stroke-dasharray="3,1.5" clip-path="url(#ca11)"/>
<clipPath id="ca12"><rect x="17.7" y="246.4" width="51.40" height="70.50"/></clipPath>
<rect x="17.7" y="246.4" width="51.40" height="70.50" fill="#000"/>
<path d="M10,268 H54 L68.1,253.4" fill="none" stroke="#b01010" stroke-opacity="0.7" stroke-width="1.40" stroke-linejoin="round" stroke-linecap="butt" clip-path="url(#ca12)" filter="url(#bl05)"/>
<path d="M10,293.4 H47 Q54,293.4 58.5,297.5 L72,310.6" fill="none" stroke="#500000" stroke-opacity="0.8" stroke-width="2.70" stroke-linejoin="round" stroke-linecap="butt" clip-path="url(#ca12)" filter="url(#bl05)"/>
<path d="M10,293.4 H47 Q54,293.4 58.5,297.5 L72,310.6" fill="none" stroke="#d41a1a" stroke-opacity="1" stroke-width="1.50" stroke-linejoin="round" stroke-linecap="butt" clip-path="url(#ca12)" filter="url(#bl05)"/>
<path d="M18.3,267.8H54L68.1,253.4 M18.3,299.2H53.4L68.1,313.5 M69.1,273.2L58.5,283.3L69.1,294.2" fill="none" stroke="#f4f4f4" stroke-width="1.7" stroke-dasharray="3,1.5" clip-path="url(#ca12)"/>
<clipPath id="ca13"><rect x="78.1" y="246.4" width="50.10" height="70.50"/></clipPath>
<rect x="78.1" y="246.4" width="50.10" height="70.50" fill="#000"/>
<path d="M70,269 H106 L128.2,250 V272 L114.7,283.3 L128.2,296 V312 L110,296 L70,296 Z" fill="#1a0000" opacity="0.45" clip-path="url(#ca13)"/>
<path d="M70,267 H107.2 L127.8,248.4" fill="none" stroke="#a01010" stroke-opacity="0.6" stroke-width="1.40" stroke-linejoin="round" stroke-linecap="butt" clip-path="url(#ca13)" filter="url(#bl05)"/>
<path d="M70,293.7 H104 Q112,293.7 116,297.5 L131,313" fill="none" stroke="#500000" stroke-opacity="0.8" stroke-width="2.70" stroke-linejoin="round" stroke-linecap="butt" clip-path="url(#ca13)" filter="url(#bl05)"/>
<path d="M70,293.7 H104 Q112,293.7 116,297.5 L131,313" fill="none" stroke="#d01818" stroke-opacity="1" stroke-width="1.50" stroke-linejoin="round" stroke-linecap="butt" clip-path="url(#ca13)" filter="url(#bl05)"/>
<path d="M78.69999999999999,266.8H107.2L127.8,248.4 M78.69999999999999,300.1H107.2L126.1,316.9 M128.2,271.5L114.7,283.3L128.2,295" fill="none" stroke="#f4f4f4" stroke-width="1.7" stroke-dasharray="3,1.5" clip-path="url(#ca13)"/>
<clipPath id="ca14"><rect x="137.7" y="246.4" width="48.30" height="70.50"/></clipPath>
<rect x="137.7" y="246.4" width="48.30" height="70.50" fill="#000"/>
<path d="M130,287.5 H163 Q170,287.5 174,291.5 L190,307.5" fill="none" stroke="#3c0404" stroke-width="9" clip-path="url(#ca14)" filter="url(#bl2)"/>
<path d="M130,281 H163 Q170,281 174,285 L190,301" fill="none" stroke="#1c0202" stroke-width="10" clip-path="url(#ca14)" filter="url(#bl2)"/>
<path d="M130,293 H162 Q170,293 174,297 L190,313" fill="none" stroke="#5a0505" stroke-opacity="0.9" stroke-width="4.84" stroke-linejoin="round" stroke-linecap="butt" clip-path="url(#ca14)" filter="url(#bl05)"/>
<path d="M130,293 H162 Q170,293 174,297 L190,313" fill="none" stroke="#d81a1a" stroke-opacity="1" stroke-width="2.20" stroke-linejoin="round" stroke-linecap="butt" clip-path="url(#ca14)" filter="url(#bl05)"/>
<path d="M138.29999999999998,267.3H165.1L184,248 M138.29999999999998,301.4H164.2L180.2,316.5 M186,274L173.4,285.8L186,298.4" fill="none" stroke="#f4f4f4" stroke-width="1.7" stroke-dasharray="3,1.5" clip-path="url(#ca14)"/>
<clipPath id="ca15"><rect x="195.3" y="246.4" width="48.70" height="70.50"/></clipPath>
<rect x="195.3" y="246.4" width="48.70" height="70.50" fill="#090822"/>
<path d="M188,273.2 H228 Q234,273.2 238,269.2 L252,255.2" fill="none" stroke="#b81616" stroke-width="12" stroke-linejoin="round" clip-path="url(#ca15)" filter="url(#bl1)"/>
<path d="M188,272.5 H228 Q234,272.5 238,268.5 L252,254.5" fill="none" stroke="#cc1a1a" stroke-opacity="1" stroke-width="7.70" stroke-linejoin="round" stroke-linecap="butt" clip-path="url(#ca15)" filter="url(#bl05)"/>
<path d="M188,272.5 H228 Q234,272.5 238,268.5 L252,254.5" fill="none" stroke="#e02424" stroke-opacity="1" stroke-width="4.40" stroke-linejoin="round" stroke-linecap="butt" clip-path="url(#ca15)" filter="url(#bl05)"/>
<path d="M188,272.5 H228 Q234,272.5 238,268.5 L252,254.5" fill="none" stroke="#a01414" stroke-opacity="0.7" stroke-width="1.10" stroke-linejoin="round" stroke-linecap="butt" clip-path="url(#ca15)" filter="url(#bl05)"/>
<path d="M195.9,266.5H230.5L244,255.6 M195.9,300.9H228.8L244,313.5 M244,275.7L233.4,285L244,295" fill="none" stroke="#f4f4f4" stroke-width="1.7" stroke-dasharray="3,1.5" clip-path="url(#ca15)"/>
<text x="1.20" y="11.80" font-size="15" font-weight="bold" text-anchor="start" fill="#1a1a1a" >a</text>
<text x="20.00" y="77.00" font-size="9" font-weight="bold" text-anchor="start" fill="#ffffff" >Inner wall</text>
<text x="0.00" y="0.00" font-size="10.6" font-weight="bold" text-anchor="middle" fill="#1a1a1a" transform="translate(11,46.5) rotate(-90)">1–3 <tspan font-weight="normal">μ</tspan>m</text>
<text x="0.00" y="0.00" font-size="10.6" font-weight="bold" text-anchor="middle" fill="#1a1a1a" transform="translate(11,122) rotate(-90)">4 <tspan font-weight="normal">μ</tspan>m</text>
<text x="0.00" y="0.00" font-size="10.6" font-weight="bold" text-anchor="middle" fill="#1a1a1a" transform="translate(11,198.5) rotate(-90)">5 <tspan font-weight="normal">μ</tspan>m</text>
<text x="0.00" y="0.00" font-size="10.6" font-weight="bold" text-anchor="middle" fill="#1a1a1a" transform="translate(11,278.5) rotate(-90)">6 <tspan font-weight="normal">μ</tspan>m</text>
<text x="2.00" y="333.00" font-size="11" font-weight="bold" text-anchor="start" fill="#1a1a1a" >h</text>
<text x="2.00" y="348.00" font-size="11" font-weight="bold" text-anchor="start" fill="#1a1a1a" >Re</text>
<text x="44.00" y="333.00" font-size="11" font-weight="bold" text-anchor="middle" fill="#1a1a1a" >60 <tspan font-weight="normal">μ</tspan>m</text>
<text x="44.00" y="348.00" font-size="11" font-weight="bold" text-anchor="middle" fill="#1a1a1a" >43.75</text>
<text x="104.00" y="333.00" font-size="11" font-weight="bold" text-anchor="middle" fill="#1a1a1a" >80 <tspan font-weight="normal">μ</tspan>m</text>
<text x="104.00" y="348.00" font-size="11" font-weight="bold" text-anchor="middle" fill="#1a1a1a" >37.50</text>
<text x="161.00" y="333.00" font-size="11" font-weight="bold" text-anchor="middle" fill="#1a1a1a" >90 <tspan font-weight="normal">μ</tspan>m</text>
<text x="161.00" y="348.00" font-size="11" font-weight="bold" text-anchor="middle" fill="#1a1a1a" >31.33</text>
<text x="218.50" y="333.00" font-size="11" font-weight="bold" text-anchor="middle" fill="#1a1a1a" >100 <tspan font-weight="normal">μ</tspan>m</text>
<text x="218.50" y="348.00" font-size="11" font-weight="bold" text-anchor="middle" fill="#1a1a1a" >29.17</text>
<text x="1.50" y="399.80" font-size="15" font-weight="bold" text-anchor="start" fill="#1a1a1a" >b</text>
<text x="35.00" y="399.60" font-size="11" font-weight="bold" text-anchor="middle" fill="#1a1a1a" >1 <tspan font-weight="normal">μ</tspan>m</text>
<text x="81.50" y="399.60" font-size="11" font-weight="bold" text-anchor="middle" fill="#1a1a1a" >2 <tspan font-weight="normal">μ</tspan>m</text>
<text x="128.00" y="399.60" font-size="11" font-weight="bold" text-anchor="middle" fill="#1a1a1a" >3 <tspan font-weight="normal">μ</tspan>m</text>
<text x="176.00" y="399.60" font-size="11" font-weight="bold" text-anchor="middle" fill="#1a1a1a" >4 <tspan font-weight="normal">μ</tspan>m</text>
<text x="222.50" y="399.60" font-size="11" font-weight="bold" text-anchor="middle" fill="#1a1a1a" >5 <tspan font-weight="normal">μ</tspan>m</text>
<text x="17.60" y="490.00" font-size="11" font-weight="bold" text-anchor="start" fill="#1a1a1a" >h 40 <tspan font-weight="normal">μ</tspan>m, w 400 <tspan font-weight="normal">μ</tspan>m, Re 50.0</text>
<text x="17.60" y="577.00" font-size="11" font-weight="bold" text-anchor="start" fill="#1a1a1a" >h 60 <tspan font-weight="normal">μ</tspan>m ,w 500 <tspan font-weight="normal">μ</tspan>m, Re 62.5</text>
<rect x="17.7" y="404.20" width="41.60" height="59.40" fill="#050e16" fill-opacity="1"/>
<linearGradient id="bg1" x1="0" y1="0" x2="0" y2="1"><stop offset="0" stop-color="#22dc22" stop-opacity="1"/><stop offset="0.35" stop-color="#1ed01e" stop-opacity="1"/><stop offset="0.45" stop-color="#0c5a0c" stop-opacity="1"/><stop offset="1" stop-color="#050e16" stop-opacity="0"/></linearGradient>
<rect x="17.7" y="417.00" width="41.60" height="13.00" fill="url(#bg1)"/>
<line x1="17.7" y1="416.7" x2="59.3" y2="416.7" stroke="#dcdcdc" stroke-width="1.8" stroke-dasharray="2.7,1.5"/>
<line x1="17.7" y1="449.8" x2="59.3" y2="449.8" stroke="#dcdcdc" stroke-width="1.8" stroke-dasharray="2.7,1.5"/>
<rect x="64" y="404.20" width="42.30" height="59.40" fill="#052005" fill-opacity="1"/>
<linearGradient id="bg2" x1="0" y1="0" x2="0" y2="1"><stop offset="0" stop-color="#22e022" stop-opacity="1"/><stop offset="0.5" stop-color="#1ed01e" stop-opacity="1"/><stop offset="0.6" stop-color="#15901a" stop-opacity="1"/><stop offset="0.75" stop-color="#1aa01a" stop-opacity="1"/><stop offset="0.85" stop-color="#0e5a0e" stop-opacity="1"/><stop offset="1" stop-color="#052005" stop-opacity="0"/></linearGradient>
<rect x="64" y="417.00" width="42.30" height="14.00" fill="url(#bg2)"/>
<line x1="64" y1="416.7" x2="106.3" y2="416.7" stroke="#dcdcdc" stroke-width="1.8" stroke-dasharray="2.7,1.5"/>
<line x1="64" y1="449.8" x2="106.3" y2="449.8" stroke="#dcdcdc" stroke-width="1.8" stroke-dasharray="2.7,1.5"/>
<rect x="110.8" y="404.20" width="41.80" height="59.40" fill="#061a06" fill-opacity="1"/>
<linearGradient id="bg3" x1="0" y1="0" x2="0" y2="1"><stop offset="0" stop-color="#1c7a1c" stop-opacity="1"/><stop offset="0.1" stop-color="#2a9a2a" stop-opacity="1"/><stop offset="0.2" stop-color="#1a701a" stop-opacity="1"/><stop offset="0.3" stop-color="#2aa42a" stop-opacity="1"/><stop offset="0.42" stop-color="#186a18" stop-opacity="1"/><stop offset="0.52" stop-color="#2ab02a" stop-opacity="1"/><stop offset="0.62" stop-color="#1c861c" stop-opacity="1"/><stop offset="0.7" stop-color="#24b424" stop-opacity="1"/><stop offset="0.72" stop-color="#1ee01e" stop-opacity="1"/><stop offset="1" stop-color="#1ee81e" stop-opacity="1"/></linearGradient>
<rect x="110.8" y="417.60" width="41.80" height="30.40" fill="url(#bg3)"/>
<rect x="110.8" y="420.50" width="41.80" height="0.80" fill="#3ab83a" fill-opacity="0.8"/>
<rect x="110.8" y="424.50" width="41.80" height="0.80" fill="#36b036" fill-opacity="0.8"/>
<rect x="110.8" y="429.00" width="41.80" height="0.80" fill="#2cae2c" fill-opacity="0.8"/>
<rect x="110.8" y="433.50" width="41.80" height="0.80" fill="#32b832" fill-opacity="0.8"/>
<line x1="110.8" y1="416.7" x2="152.6" y2="416.7" stroke="#dcdcdc" stroke-width="1.8" stroke-dasharray="2.7,1.5"/>
<line x1="110.8" y1="449.8" x2="152.6" y2="449.8" stroke="#dcdcdc" stroke-width="1.8" stroke-dasharray="2.7,1.5"/>
<rect x="157.1" y="404.20" width="42.10" height="59.40" fill="#000" fill-opacity="1"/>
<path d="M157.1,443.5 L199.2,444.6" stroke="#1ad81a" stroke-width="1.8"/>
<line x1="157.1" y1="416.7" x2="199.2" y2="416.7" stroke="#dcdcdc" stroke-width="1.8" stroke-dasharray="2.7,1.5"/>
<line x1="157.1" y1="449.8" x2="199.2" y2="449.8" stroke="#dcdcdc" stroke-width="1.8" stroke-dasharray="2.7,1.5"/>
<rect x="203.8" y="404.20" width="42.10" height="59.40" fill="#1a0508" fill-opacity="1"/>
<rect x="203.8" y="413.60" width="42.10" height="1.00" fill="#5a1010" fill-opacity="0.8"/>
<path d="M203.8,442.8 L245.9,443.1" stroke="#c41c1c" stroke-width="1.8"/>
<line x1="203.8" y1="416.7" x2="245.9" y2="416.7" stroke="#dcdcdc" stroke-width="1.8" stroke-dasharray="2.7,1.5"/>
<line x1="203.8" y1="449.8" x2="245.9" y2="449.8" stroke="#dcdcdc" stroke-width="1.8" stroke-dasharray="2.7,1.5"/>
<rect x="17.7" y="496.80" width="41.60" height="66.60" fill="#000" fill-opacity="1"/>
<linearGradient id="bg4" x1="0" y1="0" x2="0" y2="1"><stop offset="0" stop-color="#22ec22" stop-opacity="1"/><stop offset="0.45" stop-color="#1ee01e" stop-opacity="1"/><stop offset="0.6" stop-color="#0e700e" stop-opacity="1"/><stop offset="1" stop-color="#000" stop-opacity="0"/></linearGradient>
<rect x="17.7" y="506.40" width="41.60" height="8.60" fill="url(#bg4)"/>
<line x1="17.7" y1="504.8" x2="59.3" y2="504.8" stroke="#dcdcdc" stroke-width="1.8" stroke-dasharray="2.7,1.5"/>
<line x1="17.7" y1="551.7" x2="59.3" y2="551.7" stroke="#dcdcdc" stroke-width="1.8" stroke-dasharray="2.7,1.5"/>
<rect x="64" y="496.80" width="42.30" height="66.60" fill="#000" fill-opacity="1"/>
<linearGradient id="bg5" x1="0" y1="0" x2="0" y2="1"><stop offset="0" stop-color="#1ed81e" stop-opacity="1"/><stop offset="0.4" stop-color="#1ac81a" stop-opacity="1"/><stop offset="0.55" stop-color="#0c600c" stop-opacity="1"/><stop offset="1" stop-color="#000" stop-opacity="0"/></linearGradient>
<rect x="64" y="506.40" width="42.30" height="8.60" fill="url(#bg5)"/>
<line x1="64" y1="504.8" x2="106.3" y2="504.8" stroke="#dcdcdc" stroke-width="1.8" stroke-dasharray="2.7,1.5"/>
<line x1="64" y1="551.7" x2="106.3" y2="551.7" stroke="#dcdcdc" stroke-width="1.8" stroke-dasharray="2.7,1.5"/>
<rect x="110.8" y="496.80" width="41.80" height="66.60" fill="#000" fill-opacity="1"/>
<path d="M110.8,514 H152.6 V523.5 Q131.7,519 110.8,518 Z" fill="#0a4a0a"/>
<path d="M110.8,516 L152.6,518.3" stroke="#14a014" stroke-width="0.8"/>
<path d="M110.8,518.4 L152.6,520.7" stroke="#14a014" stroke-width="0.8"/>
<path d="M110.8,520.4 L152.6,522.7" stroke="#14a014" stroke-width="0.8"/>
<linearGradient id="bg6" x1="0" y1="0" x2="0" y2="1"><stop offset="0" stop-color="#1ee81e" stop-opacity="1"/><stop offset="0.35" stop-color="#26f026" stop-opacity="1"/><stop offset="0.5" stop-color="#18c018" stop-opacity="1"/><stop offset="0.7" stop-color="#22e022" stop-opacity="1"/><stop offset="1" stop-color="#1ad01a" stop-opacity="1"/></linearGradient>
<rect x="110.8" y="506.00" width="41.80" height="9.40" fill="url(#bg6)"/>
<line x1="110.8" y1="504.8" x2="152.6" y2="504.8" stroke="#dcdcdc" stroke-width="1.8" stroke-dasharray="2.7,1.5"/>
<line x1="110.8" y1="551.7" x2="152.6" y2="551.7" stroke="#dcdcdc" stroke-width="1.8" stroke-dasharray="2.7,1.5"/>
<rect x="157.1" y="496.80" width="42.10" height="66.60" fill="#050c10" fill-opacity="1"/>
<linearGradient id="bg7" x1="0" y1="0" x2="0" y2="1"><stop offset="0" stop-color="#166e16" stop-opacity="1"/><stop offset="0.08" stop-color="#24a824" stop-opacity="1"/><stop offset="0.16" stop-color="#1a8c1a" stop-opacity="1"/><stop offset="0.24" stop-color="#26ac26" stop-opacity="1"/><stop offset="0.32" stop-color="#1e9c1e" stop-opacity="1"/><stop offset="0.4" stop-color="#2cc02c" stop-opacity="1"/><stop offset="0.43" stop-color="#2ae02a" stop-opacity="1"/><stop offset="0.65" stop-color="#2ae02a" stop-opacity="1"/><stop offset="0.68" stop-color="#146c14" stop-opacity="1"/><stop offset="0.76" stop-color="#105e10" stop-opacity="1"/><stop offset="0.84" stop-color="#126612" stop-opacity="1"/><stop offset="0.92" stop-color="#0c4a0c" stop-opacity="1"/><stop offset="1" stop-color="#062806" stop-opacity="1"/></linearGradient>
<rect x="157.1" y="506.50" width="42.10" height="38.50" fill="url(#bg7)"/>
<line x1="157.1" y1="504.8" x2="199.2" y2="504.8" stroke="#dcdcdc" stroke-width="1.8" stroke-dasharray="2.7,1.5"/>
<line x1="157.1" y1="551.7" x2="199.2" y2="551.7" stroke="#dcdcdc" stroke-width="1.8" stroke-dasharray="2.7,1.5"/>
<rect x="203.8" y="496.80" width="42.10" height="66.60" fill="#0b0a40" fill-opacity="1"/>
<path d="M203.8,544.2 Q224.85000000000002,544.3 245.9,545.6" stroke="#e82020" stroke-width="2" fill="none"/>
<line x1="203.8" y1="504.8" x2="245.9" y2="504.8" stroke="#dcdcdc" stroke-width="1.8" stroke-dasharray="2.7,1.5"/>
<line x1="203.8" y1="551.7" x2="245.9" y2="551.7" stroke="#dcdcdc" stroke-width="1.8" stroke-dasharray="2.7,1.5"/>
</svg></body></html>
